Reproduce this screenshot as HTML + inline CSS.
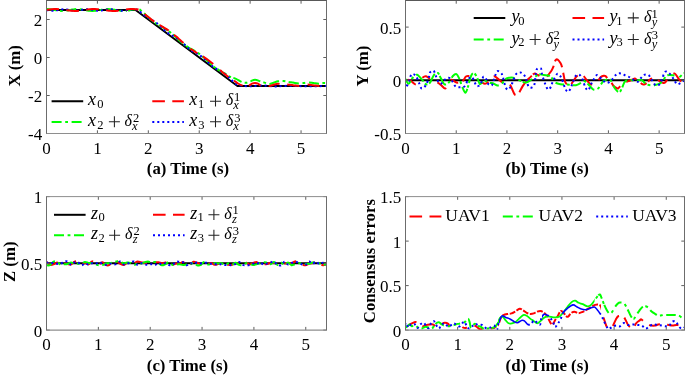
<!DOCTYPE html><html><head><meta charset="utf-8"><style>html,body{margin:0;padding:0;background:#fff;overflow:hidden;}svg{display:block;font-family:"Liberation Serif",serif;will-change:transform;}</style></head><body><svg width="685" height="376" viewBox="0 0 685 376"><defs><clipPath id="ca"><rect x="46.5" y="-0.5" width="280.0" height="134.0"/></clipPath><clipPath id="cb"><rect x="405.5" y="-0.5" width="279.0" height="134.0"/></clipPath><clipPath id="cc"><rect x="46.5" y="195.6" width="280.0" height="134.50000000000003"/></clipPath><clipPath id="cd"><rect x="405.5" y="195.6" width="279.0" height="134.50000000000003"/></clipPath><clipPath id="cao1"><rect x="41.50" y="0" width="85.50" height="376"/><rect x="327.00" y="0" width="4.50" height="376"/></clipPath><clipPath id="cao1_0"><rect x="127.00" y="0" width="200.00" height="376"/></clipPath><clipPath id="cao3"><rect x="41.50" y="0" width="98.50" height="376"/><rect x="327.00" y="0" width="4.50" height="376"/></clipPath><clipPath id="cao3_0"><rect x="140.00" y="0" width="187.00" height="376"/></clipPath><clipPath id="cdo0"><rect x="400.50" y="0" width="97.50" height="376"/><rect x="601.00" y="0" width="88.50" height="376"/></clipPath><clipPath id="cdo0_0"><rect x="498.00" y="0" width="103.00" height="376"/></clipPath><clipPath id="cdo1"><rect x="400.50" y="0" width="97.50" height="376"/><rect x="594.60" y="0" width="94.90" height="376"/></clipPath><clipPath id="cdo1_0"><rect x="498.00" y="0" width="96.60" height="376"/></clipPath><clipPath id="cdo2"><rect x="400.50" y="0" width="98.50" height="376"/><rect x="528.00" y="0" width="14.00" height="376"/><rect x="548.00" y="0" width="15.00" height="376"/><rect x="600.00" y="0" width="89.50" height="376"/></clipPath><clipPath id="cdo2_0"><rect x="499.00" y="0" width="29.00" height="376"/></clipPath><clipPath id="cdo2_1"><rect x="542.00" y="0" width="6.00" height="376"/></clipPath><clipPath id="cdo2_2"><rect x="563.00" y="0" width="37.00" height="376"/></clipPath></defs><rect width="685" height="376" fill="#fff"/><g clip-path="url(#ca)"><path d="M46.50,10.00 L135.59,10.00 L237.41,86.00 L326.50,86.00" stroke="#000" stroke-width="2" fill="none" stroke-linejoin="round"/><g clip-path="url(#cao1)"><path d="M46.50,9.05 C46.92,9.07 48.20,9.08 49.05,9.15 C49.89,9.22 50.74,9.34 51.59,9.47 C52.44,9.60 53.29,9.77 54.14,9.93 C54.98,10.09 55.83,10.27 56.68,10.42 C57.53,10.56 58.38,10.70 59.23,10.79 C60.08,10.88 60.92,10.94 61.77,10.95 C62.62,10.96 63.47,10.92 64.32,10.85 C65.17,10.78 66.02,10.66 66.86,10.53 C67.71,10.40 68.56,10.23 69.41,10.07 C70.26,9.91 71.11,9.73 71.95,9.58 C72.80,9.44 73.65,9.30 74.50,9.21 C75.35,9.12 76.20,9.06 77.05,9.05 C77.89,9.04 78.74,9.08 79.59,9.15 C80.44,9.22 81.29,9.34 82.14,9.47 C82.98,9.60 83.83,9.77 84.68,9.93 C85.53,10.09 86.38,10.27 87.23,10.42 C88.08,10.56 88.92,10.70 89.77,10.79 C90.62,10.88 91.47,10.94 92.32,10.95 C93.17,10.96 94.02,10.92 94.86,10.85 C95.71,10.78 96.56,10.66 97.41,10.53 C98.26,10.40 99.11,10.23 99.95,10.07 C100.80,9.91 101.65,9.73 102.50,9.58 C103.35,9.44 104.20,9.30 105.05,9.21 C105.89,9.12 106.74,9.06 107.59,9.05 C108.44,9.04 109.29,9.08 110.14,9.15 C110.98,9.22 111.83,9.34 112.68,9.47 C113.53,9.60 114.38,9.77 115.23,9.93 C116.08,10.09 116.92,10.27 117.77,10.42 C118.62,10.56 119.47,10.70 120.32,10.79 C121.17,10.88 122.02,10.94 122.86,10.95 C123.71,10.96 124.56,10.92 125.41,10.85 C126.26,10.78 127.11,10.66 127.95,10.53 C128.80,10.40 129.65,10.23 130.50,10.07 C131.35,9.91 132.20,9.73 133.05,9.58 C133.89,9.44 134.74,9.30 135.59,9.21 C136.44,9.12 137.29,8.87 138.14,9.05 C138.98,9.23 139.83,9.71 140.68,10.29 C141.53,10.86 142.38,11.74 143.23,12.51 C144.08,13.27 144.92,14.08 145.77,14.87 C146.62,15.66 147.47,16.48 148.32,17.26 C149.17,18.03 150.02,18.81 150.86,19.53 C151.71,20.25 152.56,20.94 153.41,21.59 C154.26,22.23 155.11,22.83 155.95,23.39 C156.80,23.96 157.65,24.47 158.50,24.97 C159.35,25.47 160.20,25.93 161.05,26.41 C161.89,26.88 162.74,27.33 163.59,27.82 C164.44,28.32 165.29,28.81 166.14,29.35 C166.98,29.90 167.83,30.47 168.68,31.09 C169.53,31.71 170.38,32.38 171.23,33.09 C172.08,33.79 172.92,34.54 173.77,35.31 C174.62,36.07 175.47,36.88 176.32,37.67 C177.17,38.46 178.02,39.28 178.86,40.06 C179.71,40.83 180.56,41.61 181.41,42.33 C182.26,43.05 183.11,43.74 183.95,44.39 C184.80,45.03 185.65,45.63 186.50,46.19 C187.35,46.76 188.20,47.27 189.05,47.77 C189.89,48.27 190.74,48.73 191.59,49.21 C192.44,49.68 193.29,50.13 194.14,50.62 C194.98,51.12 195.83,51.61 196.68,52.15 C197.53,52.70 198.38,53.27 199.23,53.89 C200.08,54.51 200.92,55.18 201.77,55.89 C202.62,56.59 203.47,57.34 204.32,58.11 C205.17,58.87 206.02,59.68 206.86,60.47 C207.71,61.26 208.56,62.08 209.41,62.86 C210.26,63.63 211.11,64.41 211.95,65.13 C212.80,65.85 213.65,66.54 214.50,67.19 C215.35,67.83 216.20,68.43 217.05,68.99 C217.89,69.56 218.74,70.07 219.59,70.57 C220.44,71.07 221.29,71.53 222.14,72.01 C222.98,72.48 223.83,72.93 224.68,73.42 C225.53,73.92 226.38,74.41 227.23,74.95 C228.08,75.50 228.31,76.05 229.77,76.69 C231.23,77.33 234.05,77.93 236.00,78.80 C237.95,79.67 239.85,81.23 241.50,81.90 C243.15,82.57 244.43,82.88 245.90,82.80 C247.37,82.72 248.78,81.92 250.30,81.40 C251.82,80.88 253.37,79.72 255.00,79.70 C256.63,79.68 258.52,80.82 260.10,81.30 C261.68,81.78 262.98,82.15 264.50,82.60 C266.02,83.05 267.70,83.97 269.20,84.00 C270.70,84.03 272.03,83.25 273.50,82.80 C274.97,82.35 276.30,81.58 278.00,81.30 C279.70,81.02 281.97,80.98 283.70,81.10 C285.43,81.22 286.85,81.75 288.40,82.00 C289.95,82.25 291.30,82.37 293.00,82.60 C294.70,82.83 296.83,83.33 298.60,83.40 C300.37,83.47 301.90,83.17 303.60,83.00 C305.30,82.83 307.15,82.40 308.80,82.40 C310.45,82.40 311.85,82.77 313.50,83.00 C315.15,83.23 317.05,83.80 318.70,83.80 C320.35,83.80 322.02,83.13 323.40,83.00 C324.78,82.87 326.40,83.00 327.00,83.00" stroke="#0f0" stroke-width="2" stroke-dasharray="10 3.6 2.8 3.6" fill="none" stroke-linejoin="round"/></g><path clip-path="url(#cao1_0)" d="M46.50,9.05 C46.92,9.07 48.20,9.08 49.05,9.15 C49.89,9.22 50.74,9.34 51.59,9.47 C52.44,9.60 53.29,9.77 54.14,9.93 C54.98,10.09 55.83,10.27 56.68,10.42 C57.53,10.56 58.38,10.70 59.23,10.79 C60.08,10.88 60.92,10.94 61.77,10.95 C62.62,10.96 63.47,10.92 64.32,10.85 C65.17,10.78 66.02,10.66 66.86,10.53 C67.71,10.40 68.56,10.23 69.41,10.07 C70.26,9.91 71.11,9.73 71.95,9.58 C72.80,9.44 73.65,9.30 74.50,9.21 C75.35,9.12 76.20,9.06 77.05,9.05 C77.89,9.04 78.74,9.08 79.59,9.15 C80.44,9.22 81.29,9.34 82.14,9.47 C82.98,9.60 83.83,9.77 84.68,9.93 C85.53,10.09 86.38,10.27 87.23,10.42 C88.08,10.56 88.92,10.70 89.77,10.79 C90.62,10.88 91.47,10.94 92.32,10.95 C93.17,10.96 94.02,10.92 94.86,10.85 C95.71,10.78 96.56,10.66 97.41,10.53 C98.26,10.40 99.11,10.23 99.95,10.07 C100.80,9.91 101.65,9.73 102.50,9.58 C103.35,9.44 104.20,9.30 105.05,9.21 C105.89,9.12 106.74,9.06 107.59,9.05 C108.44,9.04 109.29,9.08 110.14,9.15 C110.98,9.22 111.83,9.34 112.68,9.47 C113.53,9.60 114.38,9.77 115.23,9.93 C116.08,10.09 116.92,10.27 117.77,10.42 C118.62,10.56 119.47,10.70 120.32,10.79 C121.17,10.88 122.02,10.94 122.86,10.95 C123.71,10.96 124.56,10.92 125.41,10.85 C126.26,10.78 127.11,10.66 127.95,10.53 C128.80,10.40 129.65,10.23 130.50,10.07 C131.35,9.91 132.20,9.73 133.05,9.58 C133.89,9.44 134.74,9.30 135.59,9.21 C136.44,9.12 137.29,8.87 138.14,9.05 C138.98,9.23 139.83,9.71 140.68,10.29 C141.53,10.86 142.38,11.74 143.23,12.51 C144.08,13.27 144.92,14.08 145.77,14.87 C146.62,15.66 147.47,16.48 148.32,17.26 C149.17,18.03 150.02,18.81 150.86,19.53 C151.71,20.25 152.56,20.94 153.41,21.59 C154.26,22.23 155.11,22.83 155.95,23.39 C156.80,23.96 157.65,24.47 158.50,24.97 C159.35,25.47 160.20,25.93 161.05,26.41 C161.89,26.88 162.74,27.33 163.59,27.82 C164.44,28.32 165.29,28.81 166.14,29.35 C166.98,29.90 167.83,30.47 168.68,31.09 C169.53,31.71 170.38,32.38 171.23,33.09 C172.08,33.79 172.92,34.54 173.77,35.31 C174.62,36.07 175.47,36.88 176.32,37.67 C177.17,38.46 178.02,39.28 178.86,40.06 C179.71,40.83 180.56,41.61 181.41,42.33 C182.26,43.05 183.11,43.74 183.95,44.39 C184.80,45.03 185.65,45.63 186.50,46.19 C187.35,46.76 188.20,47.27 189.05,47.77 C189.89,48.27 190.74,48.73 191.59,49.21 C192.44,49.68 193.29,50.13 194.14,50.62 C194.98,51.12 195.83,51.61 196.68,52.15 C197.53,52.70 198.38,53.27 199.23,53.89 C200.08,54.51 200.92,55.18 201.77,55.89 C202.62,56.59 203.47,57.34 204.32,58.11 C205.17,58.87 206.02,59.68 206.86,60.47 C207.71,61.26 208.56,62.08 209.41,62.86 C210.26,63.63 211.11,64.41 211.95,65.13 C212.80,65.85 213.65,66.54 214.50,67.19 C215.35,67.83 216.20,68.43 217.05,68.99 C217.89,69.56 218.74,70.07 219.59,70.57 C220.44,71.07 221.29,71.53 222.14,72.01 C222.98,72.48 223.83,72.93 224.68,73.42 C225.53,73.92 226.38,74.41 227.23,74.95 C228.08,75.50 228.31,76.05 229.77,76.69 C231.23,77.33 234.05,77.93 236.00,78.80 C237.95,79.67 239.85,81.23 241.50,81.90 C243.15,82.57 244.43,82.88 245.90,82.80 C247.37,82.72 248.78,81.92 250.30,81.40 C251.82,80.88 253.37,79.72 255.00,79.70 C256.63,79.68 258.52,80.82 260.10,81.30 C261.68,81.78 262.98,82.15 264.50,82.60 C266.02,83.05 267.70,83.97 269.20,84.00 C270.70,84.03 272.03,83.25 273.50,82.80 C274.97,82.35 276.30,81.58 278.00,81.30 C279.70,81.02 281.97,80.98 283.70,81.10 C285.43,81.22 286.85,81.75 288.40,82.00 C289.95,82.25 291.30,82.37 293.00,82.60 C294.70,82.83 296.83,83.33 298.60,83.40 C300.37,83.47 301.90,83.17 303.60,83.00 C305.30,82.83 307.15,82.40 308.80,82.40 C310.45,82.40 311.85,82.77 313.50,83.00 C315.15,83.23 317.05,83.80 318.70,83.80 C320.35,83.80 322.02,83.13 323.40,83.00 C324.78,82.87 326.40,83.00 327.00,83.00" stroke="#0f0" stroke-width="2" stroke-dasharray="0.00 82.25 7.31 4.31 2.80 3.26 12.83 1.53 2.80 1.42 10.44 1.58 2.80 2.51 12.84 1.14 2.80 0.80 10.42 2.77 2.80 2.91 13.12 2.20 2.80 1.90 10.40 2.82 2.80 2.28 9.19 3.13 2.80 3.24 10.41 3.19 2.80 3.52 10.15 3.41 2.80 3.39 10.30 3.62 2.80 3.84 10.01 3.38 2.80 1002.20" fill="none" stroke-linejoin="round"/><path d="M46.50,9.89 C46.92,9.98 48.20,10.26 49.05,10.40 C49.89,10.54 50.74,10.67 51.59,10.72 C52.44,10.77 53.29,10.77 54.14,10.71 C54.98,10.64 55.83,10.50 56.68,10.36 C57.53,10.21 58.38,10.00 59.23,9.84 C60.08,9.68 60.92,9.50 61.77,9.40 C62.62,9.30 63.47,9.24 64.32,9.24 C65.17,9.25 66.02,9.33 66.86,9.43 C67.71,9.54 68.56,9.73 69.41,9.89 C70.26,10.05 71.11,10.26 71.95,10.40 C72.80,10.54 73.65,10.67 74.50,10.72 C75.35,10.77 76.20,10.77 77.05,10.71 C77.89,10.64 78.74,10.50 79.59,10.36 C80.44,10.21 81.29,10.00 82.14,9.84 C82.98,9.68 83.83,9.50 84.68,9.40 C85.53,9.30 86.38,9.24 87.23,9.24 C88.08,9.25 88.92,9.33 89.77,9.43 C90.62,9.54 91.47,9.73 92.32,9.89 C93.17,10.05 94.02,10.26 94.86,10.40 C95.71,10.54 96.56,10.67 97.41,10.72 C98.26,10.77 99.11,10.77 99.95,10.71 C100.80,10.64 101.65,10.50 102.50,10.36 C103.35,10.21 104.20,10.00 105.05,9.84 C105.89,9.68 106.74,9.50 107.59,9.40 C108.44,9.30 109.29,9.24 110.14,9.24 C110.98,9.25 111.83,9.33 112.68,9.43 C113.53,9.54 114.38,9.73 115.23,9.89 C116.08,10.05 116.92,10.26 117.77,10.40 C118.62,10.54 119.47,10.67 120.32,10.72 C121.17,10.77 122.02,10.77 122.86,10.71 C123.71,10.64 124.56,10.50 125.41,10.36 C126.26,10.21 127.11,10.00 127.95,9.84 C128.80,9.68 129.65,9.50 130.50,9.40 C131.35,9.30 132.20,9.24 133.05,9.24 C133.89,9.25 134.74,9.33 135.59,9.43 C136.44,9.54 137.29,9.41 138.14,9.89 C138.98,10.37 139.83,11.53 140.68,12.30 C141.53,13.07 142.38,13.84 143.23,14.52 C144.08,15.21 144.92,15.83 145.77,16.41 C146.62,16.98 147.47,17.47 148.32,17.96 C149.17,18.45 150.02,18.87 150.86,19.34 C151.71,19.82 152.56,20.27 153.41,20.80 C154.26,21.33 155.11,21.90 155.95,22.54 C156.80,23.18 157.65,23.89 158.50,24.63 C159.35,25.38 160.20,26.20 161.05,26.99 C161.89,27.79 162.74,28.63 163.59,29.40 C164.44,30.17 165.29,30.94 166.14,31.62 C166.98,32.31 167.83,32.93 168.68,33.51 C169.53,34.08 170.38,34.57 171.23,35.06 C172.08,35.55 172.92,35.97 173.77,36.44 C174.62,36.92 175.47,37.37 176.32,37.90 C177.17,38.43 178.02,39.00 178.86,39.64 C179.71,40.28 180.56,40.99 181.41,41.73 C182.26,42.48 183.11,43.30 183.95,44.09 C184.80,44.89 185.65,45.73 186.50,46.50 C187.35,47.27 188.20,48.04 189.05,48.72 C189.89,49.41 190.74,50.03 191.59,50.61 C192.44,51.18 193.29,51.67 194.14,52.16 C194.98,52.65 195.83,53.07 196.68,53.54 C197.53,54.02 198.38,54.47 199.23,55.00 C200.08,55.53 200.92,56.10 201.77,56.74 C202.62,57.38 203.47,58.09 204.32,58.83 C205.17,59.58 206.02,60.40 206.86,61.19 C207.71,61.99 208.56,62.83 209.41,63.60 C210.26,64.37 211.11,65.14 211.95,65.82 C212.80,66.51 213.65,67.13 214.50,67.71 C215.35,68.28 216.20,68.77 217.05,69.26 C217.89,69.75 218.74,70.17 219.59,70.64 C220.44,71.12 221.29,71.57 222.14,72.10 C222.98,72.63 223.83,73.20 224.68,73.84 C225.53,74.48 226.38,75.19 227.23,75.93 C228.08,76.68 228.92,77.50 229.77,78.29 C230.62,79.09 231.47,79.93 232.32,80.70 C233.17,81.47 234.02,82.24 234.86,82.92 C235.71,83.61 236.47,84.36 237.41,84.81 C238.35,85.25 238.40,85.35 240.50,85.60 C242.60,85.85 246.42,86.32 250.00,86.30 C253.58,86.28 257.83,85.48 262.00,85.50 C266.17,85.52 270.33,86.37 275.00,86.40 C279.67,86.43 285.00,85.72 290.00,85.70 C295.00,85.68 298.83,86.25 305.00,86.30 C311.17,86.35 323.33,86.05 327.00,86.00" stroke="#00f" stroke-width="2" stroke-dasharray="2 3" fill="none" stroke-linejoin="round"/><g clip-path="url(#cao3)"><path d="M46.50,10.00 C46.92,9.94 48.20,9.73 49.05,9.61 C49.89,9.50 50.74,9.38 51.59,9.29 C52.44,9.21 53.29,9.14 54.14,9.10 C54.98,9.06 55.83,9.04 56.68,9.06 C57.53,9.07 58.38,9.11 59.23,9.18 C60.08,9.24 60.92,9.34 61.77,9.44 C62.62,9.55 63.47,9.68 64.32,9.80 C65.17,9.93 66.02,10.07 66.86,10.20 C67.71,10.32 68.56,10.45 69.41,10.56 C70.26,10.66 71.11,10.76 71.95,10.82 C72.80,10.89 73.65,10.93 74.50,10.94 C75.35,10.96 76.20,10.94 77.05,10.90 C77.89,10.86 78.74,10.79 79.59,10.71 C80.44,10.62 81.29,10.50 82.14,10.39 C82.98,10.27 83.83,10.13 84.68,10.00 C85.53,9.87 86.38,9.73 87.23,9.61 C88.08,9.50 88.92,9.38 89.77,9.29 C90.62,9.21 91.47,9.14 92.32,9.10 C93.17,9.06 94.02,9.04 94.86,9.06 C95.71,9.07 96.56,9.11 97.41,9.18 C98.26,9.24 99.11,9.34 99.95,9.44 C100.80,9.55 101.65,9.68 102.50,9.80 C103.35,9.93 104.20,10.07 105.05,10.20 C105.89,10.32 106.74,10.45 107.59,10.56 C108.44,10.66 109.29,10.76 110.14,10.82 C110.98,10.89 111.83,10.93 112.68,10.94 C113.53,10.96 114.38,10.94 115.23,10.90 C116.08,10.86 116.92,10.79 117.77,10.71 C118.62,10.62 119.47,10.50 120.32,10.39 C121.17,10.27 122.02,10.13 122.86,10.00 C123.71,9.87 124.56,9.73 125.41,9.61 C126.26,9.50 127.11,9.38 127.95,9.29 C128.80,9.21 129.65,9.14 130.50,9.10 C131.35,9.06 132.20,9.04 133.05,9.06 C133.89,9.07 134.74,9.11 135.59,9.18 C136.44,9.24 137.29,9.24 138.14,9.44 C138.98,9.64 139.83,9.83 140.68,10.37 C141.53,10.91 142.38,11.91 143.23,12.67 C144.08,13.43 144.92,14.19 145.77,14.93 C146.62,15.67 147.47,16.39 148.32,17.09 C149.17,17.79 150.02,18.47 150.86,19.11 C151.71,19.76 152.56,20.38 153.41,20.97 C154.26,21.57 155.11,22.13 155.95,22.68 C156.80,23.22 157.65,23.74 158.50,24.26 C159.35,24.77 160.20,25.27 161.05,25.77 C161.89,26.27 162.74,26.77 163.59,27.28 C164.44,27.80 165.29,28.32 166.14,28.86 C166.98,29.41 167.83,29.97 168.68,30.57 C169.53,31.16 170.38,31.78 171.23,32.43 C172.08,33.07 172.92,33.75 173.77,34.45 C174.62,35.15 175.47,35.87 176.32,36.61 C177.17,37.35 178.02,38.11 178.86,38.87 C179.71,39.63 180.56,40.41 181.41,41.17 C182.26,41.93 183.11,42.69 183.95,43.43 C184.80,44.17 185.65,44.89 186.50,45.59 C187.35,46.29 188.20,46.97 189.05,47.61 C189.89,48.26 190.74,48.88 191.59,49.47 C192.44,50.07 193.29,50.63 194.14,51.18 C194.98,51.72 195.83,52.24 196.68,52.76 C197.53,53.27 198.38,53.77 199.23,54.27 C200.08,54.77 200.92,55.27 201.77,55.78 C202.62,56.30 203.47,56.82 204.32,57.36 C205.17,57.91 206.02,58.47 206.86,59.07 C207.71,59.66 208.56,60.28 209.41,60.93 C210.26,61.57 211.11,62.25 211.95,62.95 C212.80,63.65 213.65,64.37 214.50,65.11 C215.35,65.85 216.20,66.61 217.05,67.37 C217.89,68.13 218.74,68.91 219.59,69.67 C220.44,70.43 221.29,71.19 222.14,71.93 C222.98,72.67 223.83,73.39 224.68,74.09 C225.53,74.79 226.38,75.47 227.23,76.11 C228.08,76.76 228.92,77.38 229.77,77.97 C230.62,78.57 231.47,79.13 232.32,79.68 C233.17,80.22 233.92,80.62 234.86,81.26 C235.81,81.89 236.71,82.78 238.00,83.50 C239.29,84.22 241.27,85.15 242.60,85.60 C243.93,86.05 244.93,86.20 246.00,86.20 C247.07,86.20 248.00,86.03 249.00,85.60 C250.00,85.17 251.00,84.05 252.00,83.60 C253.00,83.15 254.00,82.90 255.00,82.90 C256.00,82.90 257.08,83.15 258.00,83.60 C258.92,84.05 259.50,85.13 260.50,85.60 C261.50,86.07 262.67,86.30 264.00,86.40 C265.33,86.50 267.00,86.43 268.50,86.20 C270.00,85.97 271.42,85.40 273.00,85.00 C274.58,84.60 276.50,83.87 278.00,83.80 C279.50,83.73 280.50,84.47 282.00,84.60 C283.50,84.73 285.17,84.50 287.00,84.60 C288.83,84.70 291.00,84.97 293.00,85.20 C295.00,85.43 297.33,85.93 299.00,86.00 C300.67,86.07 301.60,85.83 303.00,85.60 C304.40,85.37 305.73,84.67 307.40,84.60 C309.07,84.53 311.07,84.97 313.00,85.20 C314.93,85.43 317.33,85.90 319.00,86.00 C320.67,86.10 321.67,85.87 323.00,85.80 C324.33,85.73 326.33,85.63 327.00,85.60" stroke="#f00" stroke-width="2" stroke-dasharray="12.6 7.4" fill="none" stroke-linejoin="round"/></g><path clip-path="url(#cao3_0)" d="M46.50,10.00 C46.92,9.94 48.20,9.73 49.05,9.61 C49.89,9.50 50.74,9.38 51.59,9.29 C52.44,9.21 53.29,9.14 54.14,9.10 C54.98,9.06 55.83,9.04 56.68,9.06 C57.53,9.07 58.38,9.11 59.23,9.18 C60.08,9.24 60.92,9.34 61.77,9.44 C62.62,9.55 63.47,9.68 64.32,9.80 C65.17,9.93 66.02,10.07 66.86,10.20 C67.71,10.32 68.56,10.45 69.41,10.56 C70.26,10.66 71.11,10.76 71.95,10.82 C72.80,10.89 73.65,10.93 74.50,10.94 C75.35,10.96 76.20,10.94 77.05,10.90 C77.89,10.86 78.74,10.79 79.59,10.71 C80.44,10.62 81.29,10.50 82.14,10.39 C82.98,10.27 83.83,10.13 84.68,10.00 C85.53,9.87 86.38,9.73 87.23,9.61 C88.08,9.50 88.92,9.38 89.77,9.29 C90.62,9.21 91.47,9.14 92.32,9.10 C93.17,9.06 94.02,9.04 94.86,9.06 C95.71,9.07 96.56,9.11 97.41,9.18 C98.26,9.24 99.11,9.34 99.95,9.44 C100.80,9.55 101.65,9.68 102.50,9.80 C103.35,9.93 104.20,10.07 105.05,10.20 C105.89,10.32 106.74,10.45 107.59,10.56 C108.44,10.66 109.29,10.76 110.14,10.82 C110.98,10.89 111.83,10.93 112.68,10.94 C113.53,10.96 114.38,10.94 115.23,10.90 C116.08,10.86 116.92,10.79 117.77,10.71 C118.62,10.62 119.47,10.50 120.32,10.39 C121.17,10.27 122.02,10.13 122.86,10.00 C123.71,9.87 124.56,9.73 125.41,9.61 C126.26,9.50 127.11,9.38 127.95,9.29 C128.80,9.21 129.65,9.14 130.50,9.10 C131.35,9.06 132.20,9.04 133.05,9.06 C133.89,9.07 134.74,9.11 135.59,9.18 C136.44,9.24 137.29,9.24 138.14,9.44 C138.98,9.64 139.83,9.83 140.68,10.37 C141.53,10.91 142.38,11.91 143.23,12.67 C144.08,13.43 144.92,14.19 145.77,14.93 C146.62,15.67 147.47,16.39 148.32,17.09 C149.17,17.79 150.02,18.47 150.86,19.11 C151.71,19.76 152.56,20.38 153.41,20.97 C154.26,21.57 155.11,22.13 155.95,22.68 C156.80,23.22 157.65,23.74 158.50,24.26 C159.35,24.77 160.20,25.27 161.05,25.77 C161.89,26.27 162.74,26.77 163.59,27.28 C164.44,27.80 165.29,28.32 166.14,28.86 C166.98,29.41 167.83,29.97 168.68,30.57 C169.53,31.16 170.38,31.78 171.23,32.43 C172.08,33.07 172.92,33.75 173.77,34.45 C174.62,35.15 175.47,35.87 176.32,36.61 C177.17,37.35 178.02,38.11 178.86,38.87 C179.71,39.63 180.56,40.41 181.41,41.17 C182.26,41.93 183.11,42.69 183.95,43.43 C184.80,44.17 185.65,44.89 186.50,45.59 C187.35,46.29 188.20,46.97 189.05,47.61 C189.89,48.26 190.74,48.88 191.59,49.47 C192.44,50.07 193.29,50.63 194.14,51.18 C194.98,51.72 195.83,52.24 196.68,52.76 C197.53,53.27 198.38,53.77 199.23,54.27 C200.08,54.77 200.92,55.27 201.77,55.78 C202.62,56.30 203.47,56.82 204.32,57.36 C205.17,57.91 206.02,58.47 206.86,59.07 C207.71,59.66 208.56,60.28 209.41,60.93 C210.26,61.57 211.11,62.25 211.95,62.95 C212.80,63.65 213.65,64.37 214.50,65.11 C215.35,65.85 216.20,66.61 217.05,67.37 C217.89,68.13 218.74,68.91 219.59,69.67 C220.44,70.43 221.29,71.19 222.14,71.93 C222.98,72.67 223.83,73.39 224.68,74.09 C225.53,74.79 226.38,75.47 227.23,76.11 C228.08,76.76 228.92,77.38 229.77,77.97 C230.62,78.57 231.47,79.13 232.32,79.68 C233.17,80.22 233.92,80.62 234.86,81.26 C235.81,81.89 236.71,82.78 238.00,83.50 C239.29,84.22 241.27,85.15 242.60,85.60 C243.93,86.05 244.93,86.20 246.00,86.20 C247.07,86.20 248.00,86.03 249.00,85.60 C250.00,85.17 251.00,84.05 252.00,83.60 C253.00,83.15 254.00,82.90 255.00,82.90 C256.00,82.90 257.08,83.15 258.00,83.60 C258.92,84.05 259.50,85.13 260.50,85.60 C261.50,86.07 262.67,86.30 264.00,86.40 C265.33,86.50 267.00,86.43 268.50,86.20 C270.00,85.97 271.42,85.40 273.00,85.00 C274.58,84.60 276.50,83.87 278.00,83.80 C279.50,83.73 280.50,84.47 282.00,84.60 C283.50,84.73 285.17,84.50 287.00,84.60 C288.83,84.70 291.00,84.97 293.00,85.20 C295.00,85.43 297.33,85.93 299.00,86.00 C300.67,86.07 301.60,85.83 303.00,85.60 C304.40,85.37 305.73,84.67 307.40,84.60 C309.07,84.53 311.07,84.97 313.00,85.20 C314.93,85.43 317.33,85.90 319.00,86.00 C320.67,86.10 321.67,85.87 323.00,85.80 C324.33,85.73 326.33,85.63 327.00,85.60" stroke="#f00" stroke-width="2" stroke-dasharray="0.00 100.31 12.25 6.38 10.61 6.68 12.68 8.89 8.24 6.40 12.88 9.10 10.91 6.72 9.95 6.34 13.26 8.12 11.12 7.79 12.09 8.55 11.79 1007.91" fill="none" stroke-linejoin="round"/></g><g clip-path="url(#cb)"><path d="M405.50,80.30 L684.50,80.30" stroke="#000" stroke-width="2" fill="none" stroke-linejoin="round"/><path d="M405.00,80.10 C405.80,80.10 408.10,79.40 409.80,80.10 C411.50,80.80 413.75,83.98 415.20,84.30 C416.65,84.62 417.30,83.10 418.50,82.00 C419.70,80.90 421.17,78.65 422.40,77.70 C423.63,76.75 424.72,76.20 425.90,76.30 C427.08,76.40 427.70,77.37 429.50,78.30 C431.30,79.23 434.80,80.80 436.70,81.90 C438.60,83.00 439.50,83.80 440.90,84.90 C442.30,86.00 444.00,88.65 445.10,88.50 C446.20,88.35 446.60,85.50 447.50,84.00 C448.40,82.50 449.00,79.75 450.50,79.50 C452.00,79.25 454.92,82.08 456.50,82.50 C458.08,82.92 458.92,82.30 460.00,82.00 C461.08,81.70 462.00,81.62 463.00,80.70 C464.00,79.78 465.00,77.28 466.00,76.50 C467.00,75.72 467.83,75.75 469.00,76.00 C470.17,76.25 471.43,77.32 473.00,78.00 C474.57,78.68 476.90,79.35 478.40,80.10 C479.90,80.85 480.90,81.90 482.00,82.50 C483.10,83.10 484.00,83.80 485.00,83.70 C486.00,83.60 486.62,83.10 488.00,81.90 C489.38,80.70 491.72,77.10 493.30,76.50 C494.88,75.90 496.10,77.40 497.50,78.30 C498.90,79.20 500.45,81.12 501.70,81.90 C502.95,82.68 503.70,82.60 505.00,83.00 C506.30,83.40 508.35,83.38 509.50,84.30 C510.65,85.22 511.10,86.90 511.90,88.50 C512.70,90.10 513.53,92.82 514.30,93.90 C515.07,94.98 515.70,95.20 516.50,95.00 C517.30,94.80 518.07,94.18 519.10,92.70 C520.13,91.22 521.52,88.00 522.70,86.10 C523.88,84.20 524.92,82.80 526.20,81.30 C527.48,79.80 529.20,78.30 530.40,77.10 C531.60,75.90 532.63,74.70 533.40,74.10 C534.17,73.50 534.25,73.35 535.00,73.50 C535.75,73.65 536.68,74.40 537.90,75.00 C539.12,75.60 540.83,76.87 542.30,77.10 C543.77,77.33 545.23,77.37 546.70,76.40 C548.17,75.43 550.00,72.88 551.10,71.30 C552.20,69.72 552.57,68.73 553.30,66.90 C554.03,65.07 554.77,61.52 555.50,60.30 C556.23,59.08 556.85,59.10 557.70,59.60 C558.55,60.10 559.88,62.08 560.60,63.30 C561.32,64.52 561.52,65.08 562.00,66.90 C562.48,68.72 563.00,71.77 563.50,74.20 C564.00,76.63 564.52,79.92 565.00,81.50 C565.48,83.08 565.73,83.20 566.40,83.70 C567.07,84.20 568.15,84.50 569.00,84.50 C569.85,84.50 570.58,84.57 571.50,83.70 C572.42,82.83 573.65,80.52 574.50,79.30 C575.35,78.08 575.68,77.12 576.60,76.40 C577.52,75.68 578.90,75.12 580.00,75.00 C581.10,74.88 582.18,74.98 583.20,75.70 C584.22,76.42 585.00,77.97 586.10,79.30 C587.20,80.63 588.57,82.83 589.80,83.70 C591.03,84.57 592.17,84.98 593.50,84.50 C594.83,84.02 596.58,82.03 597.80,80.80 C599.02,79.57 599.82,77.95 600.80,77.10 C601.78,76.25 602.90,75.87 603.70,75.70 C604.50,75.53 604.87,75.52 605.60,76.10 C606.33,76.68 607.17,78.17 608.10,79.20 C609.03,80.23 610.28,81.17 611.20,82.30 C612.12,83.43 612.57,84.97 613.60,86.00 C614.63,87.03 616.57,88.18 617.40,88.50 C618.23,88.82 617.92,88.48 618.60,87.90 C619.28,87.32 620.47,85.93 621.50,85.00 C622.53,84.07 623.63,82.95 624.80,82.30 C625.97,81.65 627.25,81.52 628.50,81.10 C629.75,80.68 631.27,80.22 632.30,79.80 C633.33,79.38 633.92,78.65 634.70,78.60 C635.48,78.55 636.17,78.98 637.00,79.50 C637.83,80.02 638.83,80.92 639.70,81.70 C640.57,82.48 641.37,83.78 642.20,84.20 C643.03,84.62 643.77,84.52 644.70,84.20 C645.63,83.88 646.98,83.03 647.80,82.30 C648.62,81.57 648.82,80.43 649.60,79.80 C650.38,79.17 651.47,78.70 652.50,78.50 C653.53,78.30 654.62,78.17 655.80,78.60 C656.98,79.03 658.35,80.38 659.60,81.10 C660.85,81.82 662.27,82.80 663.30,82.90 C664.33,83.00 665.02,82.52 665.80,81.70 C666.58,80.88 667.18,79.13 668.00,78.00 C668.82,76.87 669.62,75.63 670.70,74.90 C671.78,74.17 673.47,73.40 674.50,73.60 C675.53,73.80 676.08,75.07 676.90,76.10 C677.72,77.13 678.15,78.45 679.40,79.80 C680.65,81.15 683.57,83.47 684.40,84.20" stroke="#f00" stroke-width="2" stroke-dasharray="0.00 2.82 9.43 9.28 8.95 7.84 11.25 9.58 8.32 4.83 9.02 13.62 8.04 7.39 11.34 7.30 11.71 5.24 20.44 1.74 7.64 7.65 12.89 4.13 13.10 5.62 12.23 4.37 10.67 6.36 12.16 7.93 11.66 6.30 12.41 7.32 10.95 5.76 6.58 2.07 5.33 6.25 11.23 8.85 11.84 4.40 1.83 1000.00" fill="none" stroke-linejoin="round"/><path d="M405.00,78.30 C405.60,79.20 407.40,83.70 408.60,83.70 C409.80,83.70 410.80,79.80 412.20,78.30 C413.60,76.80 415.30,74.40 417.00,74.70 C418.70,75.00 420.90,78.50 422.40,80.10 C423.90,81.70 424.72,83.90 426.00,84.30 C427.28,84.70 428.82,84.00 430.10,82.50 C431.38,81.00 432.40,76.88 433.70,75.30 C435.00,73.72 436.70,72.50 437.90,73.00 C439.10,73.50 439.80,76.42 440.90,78.30 C442.00,80.18 443.10,83.68 444.50,84.30 C445.90,84.92 447.90,83.38 449.30,82.00 C450.70,80.62 451.70,77.32 452.90,76.00 C454.10,74.68 455.42,73.60 456.50,74.10 C457.58,74.60 458.42,76.80 459.40,79.00 C460.38,81.20 461.40,85.02 462.40,87.30 C463.40,89.58 464.50,92.70 465.40,92.70 C466.30,92.70 466.90,90.00 467.80,87.30 C468.70,84.60 469.80,78.88 470.80,76.50 C471.80,74.12 472.73,72.80 473.80,73.00 C474.87,73.20 476.23,75.92 477.20,77.70 C478.17,79.48 478.80,82.90 479.60,83.70 C480.40,84.50 481.10,83.00 482.00,82.50 C482.90,82.00 483.82,80.70 485.00,80.70 C486.18,80.70 487.62,82.00 489.10,82.50 C490.58,83.00 492.50,83.20 493.90,83.70 C495.30,84.20 496.20,85.50 497.50,85.50 C498.80,85.50 500.30,84.80 501.70,83.70 C503.10,82.60 504.60,79.90 505.90,78.90 C507.20,77.90 508.30,77.90 509.50,77.70 C510.70,77.50 511.70,77.40 513.10,77.70 C514.50,78.00 516.30,78.80 517.90,79.50 C519.50,80.20 521.32,81.40 522.70,81.90 C524.08,82.40 525.02,82.70 526.20,82.50 C527.38,82.30 528.40,81.60 529.80,80.70 C531.20,79.80 533.40,77.97 534.60,77.10 C535.80,76.23 536.20,75.98 537.00,75.50 C537.80,75.02 538.27,74.28 539.40,74.20 C540.53,74.12 542.22,74.75 543.80,75.00 C545.38,75.25 547.57,75.22 548.90,75.70 C550.23,76.18 550.95,76.93 551.80,77.90 C552.65,78.87 552.90,80.53 554.00,81.50 C555.10,82.47 556.93,83.20 558.40,83.70 C559.87,84.20 561.35,84.37 562.80,84.50 C564.25,84.63 565.65,84.38 567.10,84.50 C568.55,84.62 570.03,85.08 571.50,85.20 C572.97,85.32 574.55,85.45 575.90,85.20 C577.25,84.95 578.38,84.43 579.60,83.70 C580.82,82.97 582.12,81.03 583.20,80.80 C584.28,80.57 585.00,81.45 586.10,82.30 C587.20,83.15 588.57,84.68 589.80,85.90 C591.03,87.12 592.17,89.12 593.50,89.60 C594.83,90.08 596.58,89.65 597.80,88.80 C599.02,87.95 599.82,85.83 600.80,84.50 C601.78,83.17 603.00,81.48 603.70,80.80 C604.40,80.12 604.07,80.77 605.00,80.40 C605.93,80.03 608.07,78.08 609.30,78.60 C610.53,79.12 611.47,81.85 612.40,83.50 C613.33,85.15 613.77,87.05 614.90,88.50 C616.03,89.95 617.97,92.40 619.20,92.20 C620.43,92.00 621.37,89.05 622.30,87.30 C623.23,85.55 623.55,82.95 624.80,81.70 C626.05,80.45 627.93,79.90 629.80,79.80 C631.67,79.70 634.13,81.10 636.00,81.10 C637.87,81.10 639.25,79.28 641.00,79.80 C642.75,80.32 644.65,83.27 646.50,84.20 C648.35,85.13 650.55,85.30 652.10,85.40 C653.65,85.50 654.55,85.12 655.80,84.80 C657.05,84.48 658.35,84.23 659.60,83.50 C660.85,82.77 662.27,81.63 663.30,80.40 C664.33,79.17 664.77,77.02 665.80,76.10 C666.83,75.18 668.05,75.00 669.50,74.90 C670.95,74.80 672.95,75.10 674.50,75.50 C676.05,75.90 677.37,77.62 678.80,77.30 C680.23,76.98 682.15,74.32 683.10,73.60 C684.05,72.88 684.27,73.10 684.50,73.00" stroke="#0f0" stroke-width="2" stroke-dasharray="0.00 0.01 10.10 2.04 2.80 3.29 10.58 2.38 2.80 2.03 10.92 2.57 2.80 1.45 11.29 2.38 2.80 3.60 12.32 2.23 2.80 3.23 11.12 1.25 2.80 2.06 10.41 2.27 2.80 2.33 10.00 1.84 2.80 2.99 9.45 3.55 2.80 2.86 9.52 4.20 2.80 1.88 10.43 3.87 2.80 2.00 10.65 2.21 2.80 3.83 8.84 2.80 2.80 2.86 9.05 3.24 2.80 2.27 9.25 3.23 2.80 3.08 8.20 3.43 2.80 4.29 7.84 2.10 2.80 2.11 9.07 3.58 2.80 3.45 9.75 2.75 2.80 3.43 8.87 3.14 2.80 2.84 7.28 5.40 2.80 2.65 3.53 1000.00" fill="none" stroke-linejoin="round"/><path d="M405.00,84.00 C405.20,84.55 405.40,88.13 406.20,87.30 C407.00,86.47 408.90,81.20 409.80,79.00 C410.70,76.80 410.60,74.62 411.60,74.10 C412.60,73.58 414.50,74.30 415.80,75.90 C417.10,77.50 418.40,81.60 419.40,83.70 C420.40,85.80 420.70,88.30 421.80,88.50 C422.90,88.70 424.82,86.80 426.00,84.90 C427.18,83.00 428.22,79.18 428.90,77.10 C429.58,75.02 429.35,73.48 430.10,72.40 C430.85,71.32 432.50,70.22 433.40,70.60 C434.30,70.98 434.85,73.12 435.50,74.70 C436.15,76.28 436.40,78.60 437.30,80.10 C438.20,81.60 439.40,84.00 440.90,83.70 C442.40,83.40 444.70,79.20 446.30,78.30 C447.90,77.40 449.40,77.60 450.50,78.30 C451.60,79.00 452.00,81.10 452.90,82.50 C453.80,83.90 454.62,85.90 455.90,86.70 C457.18,87.50 459.12,87.40 460.60,87.30 C462.08,87.20 463.50,87.48 464.80,86.10 C466.10,84.72 467.20,80.50 468.40,79.00 C469.60,77.50 470.93,76.52 472.00,77.10 C473.07,77.68 474.03,81.00 474.80,82.50 C475.57,84.00 475.70,85.70 476.60,86.10 C477.50,86.50 479.30,85.90 480.20,84.90 C481.10,83.90 481.40,81.50 482.00,80.10 C482.60,78.70 483.00,76.50 483.80,76.50 C484.60,76.50 486.02,78.80 486.80,80.10 C487.58,81.40 487.62,83.50 488.50,84.30 C489.38,85.10 491.00,86.30 492.10,84.90 C493.20,83.50 494.20,78.18 495.10,75.90 C496.00,73.62 496.50,71.68 497.50,71.20 C498.50,70.72 500.20,72.02 501.10,73.00 C502.00,73.98 502.20,74.92 502.90,77.10 C503.60,79.28 504.50,84.00 505.30,86.10 C506.10,88.20 506.80,89.60 507.70,89.70 C508.60,89.80 509.90,87.90 510.70,86.70 C511.50,85.50 511.60,84.60 512.50,82.50 C513.40,80.40 514.80,75.78 516.10,74.10 C517.40,72.42 519.02,72.30 520.30,72.40 C521.58,72.50 522.82,73.62 523.80,74.70 C524.78,75.78 525.40,76.90 526.20,78.90 C527.00,80.90 527.60,85.30 528.60,86.70 C529.60,88.10 531.20,87.80 532.20,87.30 C533.20,86.80 533.88,86.62 534.60,83.70 C535.32,80.78 535.47,72.35 536.50,69.80 C537.53,67.25 539.95,67.90 540.80,68.40 C541.65,68.90 541.10,70.85 541.60,72.80 C542.10,74.75 543.07,77.92 543.80,80.10 C544.53,82.28 545.27,84.32 546.00,85.90 C546.73,87.48 547.35,89.48 548.20,89.60 C549.05,89.72 550.38,87.82 551.10,86.60 C551.82,85.38 551.53,84.37 552.50,82.30 C553.47,80.23 555.68,75.30 556.90,74.20 C558.12,73.10 558.95,74.85 559.80,75.70 C560.65,76.55 561.13,77.23 562.00,79.30 C562.87,81.37 564.02,86.02 565.00,88.10 C565.98,90.18 566.93,91.80 567.90,91.80 C568.87,91.80 570.07,89.45 570.80,88.10 C571.53,86.75 571.45,85.77 572.30,83.70 C573.15,81.63 574.68,77.15 575.90,75.70 C577.12,74.25 578.50,74.40 579.60,75.00 C580.70,75.60 581.53,77.23 582.50,79.30 C583.47,81.37 584.43,85.57 585.40,87.40 C586.37,89.23 587.32,90.92 588.30,90.30 C589.28,89.68 590.32,85.65 591.30,83.70 C592.28,81.75 593.23,80.05 594.20,78.60 C595.17,77.15 596.03,75.10 597.10,75.00 C598.17,74.90 599.50,76.98 600.60,78.00 C601.70,79.02 602.57,80.28 603.70,81.10 C604.83,81.92 606.15,83.02 607.40,82.90 C608.65,82.78 610.05,81.43 611.20,80.40 C612.35,79.37 613.27,77.83 614.30,76.70 C615.33,75.57 616.17,74.12 617.40,73.60 C618.63,73.08 620.37,73.28 621.70,73.60 C623.03,73.92 624.05,74.88 625.40,75.50 C626.75,76.12 628.45,76.58 629.80,77.30 C631.15,78.02 632.17,79.07 633.50,79.80 C634.83,80.53 636.55,82.00 637.80,81.70 C639.05,81.40 639.97,79.13 641.00,78.00 C642.03,76.87 642.77,75.42 644.00,74.90 C645.23,74.38 647.25,74.28 648.40,74.90 C649.55,75.52 650.07,77.37 650.90,78.60 C651.73,79.83 652.58,81.17 653.40,82.30 C654.22,83.43 654.77,85.08 655.80,85.40 C656.83,85.72 658.57,85.23 659.60,84.20 C660.63,83.17 661.08,81.27 662.00,79.20 C662.92,77.13 663.95,72.83 665.10,71.80 C666.25,70.77 667.75,72.18 668.90,73.00 C670.05,73.82 671.07,75.47 672.00,76.70 C672.93,77.93 673.68,79.15 674.50,80.40 C675.32,81.65 675.87,83.78 676.90,84.20 C677.93,84.62 679.45,83.53 680.70,82.90 C681.95,82.27 683.78,80.82 684.40,80.40" stroke="#00f" stroke-width="2" stroke-dasharray="2 3" fill="none" stroke-linejoin="round"/></g><g clip-path="url(#cc)"><path d="M46.50,263.35 L326.50,263.35" stroke="#000" stroke-width="2" fill="none" stroke-linejoin="round"/><path d="M46.50,261.89 C47.08,262.36 48.83,264.32 50.00,264.74 C51.17,265.16 52.33,264.80 53.50,264.41 C54.67,264.01 55.83,262.55 57.00,262.37 C58.17,262.19 59.33,263.20 60.50,263.33 C61.67,263.46 62.83,263.04 64.00,263.15 C65.17,263.25 66.33,263.73 67.50,263.96 C68.67,264.18 69.83,264.88 71.00,264.50 C72.17,264.13 73.33,262.23 74.50,261.73 C75.67,261.22 76.83,260.97 78.00,261.46 C79.17,261.96 80.33,264.42 81.50,264.69 C82.67,264.96 83.83,263.13 85.00,263.08 C86.17,263.03 87.33,264.69 88.50,264.40 C89.67,264.11 90.83,261.57 92.00,261.36 C93.17,261.15 94.33,262.65 95.50,263.13 C96.67,263.61 97.83,264.38 99.00,264.24 C100.17,264.09 101.33,262.12 102.50,262.27 C103.67,262.41 104.83,264.68 106.00,265.13 C107.17,265.58 108.33,265.57 109.50,264.96 C110.67,264.35 111.83,262.06 113.00,261.47 C114.17,260.89 115.33,261.11 116.50,261.45 C117.67,261.79 118.83,262.91 120.00,263.52 C121.17,264.12 122.33,265.21 123.50,265.11 C124.67,265.00 125.83,263.36 127.00,262.87 C128.17,262.39 129.33,262.19 130.50,262.22 C131.67,262.24 132.83,263.16 134.00,263.04 C135.17,262.91 136.33,261.60 137.50,261.47 C138.67,261.33 139.83,261.96 141.00,262.24 C142.17,262.51 143.33,262.92 144.50,263.10 C145.67,263.28 146.83,263.47 148.00,263.33 C149.17,263.20 150.33,262.46 151.50,262.28 C152.67,262.11 153.83,262.28 155.00,262.27 C156.17,262.26 157.33,262.07 158.50,262.23 C159.67,262.38 160.83,263.14 162.00,263.19 C163.17,263.24 164.33,262.80 165.50,262.51 C166.67,262.22 167.83,261.07 169.00,261.44 C170.17,261.80 171.33,264.34 172.50,264.70 C173.67,265.06 174.83,263.71 176.00,263.58 C177.17,263.45 178.33,264.17 179.50,263.92 C180.67,263.67 181.83,261.86 183.00,262.09 C184.17,262.33 185.33,264.87 186.50,265.32 C187.67,265.77 188.83,265.37 190.00,264.79 C191.17,264.21 192.33,262.19 193.50,261.83 C194.67,261.48 195.83,262.28 197.00,262.68 C198.17,263.08 199.33,263.98 200.50,264.24 C201.67,264.49 202.83,264.05 204.00,264.19 C205.17,264.34 206.33,265.29 207.50,265.10 C208.67,264.90 209.83,263.11 211.00,263.04 C212.17,262.97 213.33,264.50 214.50,264.67 C215.67,264.84 216.83,264.38 218.00,264.03 C219.17,263.68 220.33,262.62 221.50,262.56 C222.67,262.51 223.83,263.31 225.00,263.70 C226.17,264.09 227.33,264.71 228.50,264.88 C229.67,265.05 230.83,264.99 232.00,264.73 C233.17,264.48 234.33,263.54 235.50,263.37 C236.67,263.20 237.83,264.02 239.00,263.71 C240.17,263.39 241.33,261.72 242.50,261.49 C243.67,261.26 244.83,261.81 246.00,262.32 C247.17,262.83 248.33,264.43 249.50,264.54 C250.67,264.65 251.83,263.42 253.00,263.01 C254.17,262.59 255.33,261.95 256.50,262.04 C257.67,262.13 258.83,263.19 260.00,263.55 C261.17,263.90 262.33,264.08 263.50,264.16 C264.67,264.25 265.83,264.27 267.00,264.05 C268.17,263.83 269.33,263.01 270.50,262.85 C271.67,262.69 272.83,263.02 274.00,263.11 C275.17,263.19 276.33,263.16 277.50,263.38 C278.67,263.61 279.83,264.46 281.00,264.46 C282.17,264.47 283.33,263.69 284.50,263.43 C285.67,263.18 286.83,262.94 288.00,262.92 C289.17,262.90 290.33,263.55 291.50,263.31 C292.67,263.07 293.83,261.77 295.00,261.47 C296.17,261.17 297.33,261.07 298.50,261.52 C299.67,261.97 300.83,263.54 302.00,264.16 C303.17,264.79 304.33,265.36 305.50,265.28 C306.67,265.21 307.83,264.12 309.00,263.72 C310.17,263.33 311.33,263.21 312.50,262.92 C313.67,262.64 314.83,261.96 316.00,262.03 C317.17,262.10 318.33,262.82 319.50,263.36 C320.67,263.90 321.83,265.10 323.00,265.28 C324.17,265.46 325.92,264.57 326.50,264.43" stroke="#f00" stroke-width="2" stroke-dasharray="12.6 7.4" fill="none" stroke-linejoin="round"/><path d="M46.50,265.17 C47.08,265.17 48.83,265.74 50.00,265.14 C51.17,264.54 52.33,262.15 53.50,261.58 C54.67,261.00 55.83,261.17 57.00,261.69 C58.17,262.21 59.33,264.26 60.50,264.69 C61.67,265.13 62.83,264.40 64.00,264.29 C65.17,264.18 66.33,264.31 67.50,264.03 C68.67,263.74 69.83,262.63 71.00,262.58 C72.17,262.54 73.33,263.57 74.50,263.77 C75.67,263.97 76.83,263.79 78.00,263.78 C79.17,263.76 80.33,263.97 81.50,263.67 C82.67,263.38 83.83,262.08 85.00,261.98 C86.17,261.88 87.33,262.92 88.50,263.07 C89.67,263.23 90.83,262.73 92.00,262.92 C93.17,263.12 94.33,263.84 95.50,264.24 C96.67,264.64 97.83,265.18 99.00,265.33 C100.17,265.48 101.33,265.45 102.50,265.15 C103.67,264.85 104.83,263.86 106.00,263.53 C107.17,263.19 108.33,263.31 109.50,263.13 C110.67,262.95 111.83,262.70 113.00,262.42 C114.17,262.15 115.33,261.65 116.50,261.49 C117.67,261.33 118.83,261.17 120.00,261.46 C121.17,261.75 122.33,263.02 123.50,263.21 C124.67,263.40 125.83,262.68 127.00,262.62 C128.17,262.57 129.33,262.49 130.50,262.87 C131.67,263.25 132.83,264.82 134.00,264.92 C135.17,265.01 136.33,263.67 137.50,263.45 C138.67,263.23 139.83,263.79 141.00,263.59 C142.17,263.40 143.33,262.65 144.50,262.29 C145.67,261.94 146.83,261.39 148.00,261.45 C149.17,261.50 150.33,262.58 151.50,262.65 C152.67,262.73 153.83,261.77 155.00,261.90 C156.17,262.02 157.33,262.82 158.50,263.39 C159.67,263.97 160.83,265.24 162.00,265.34 C163.17,265.45 164.33,264.59 165.50,264.05 C166.67,263.50 167.83,261.93 169.00,262.08 C170.17,262.22 171.33,264.51 172.50,264.92 C173.67,265.33 174.83,264.64 176.00,264.54 C177.17,264.43 178.33,264.21 179.50,264.29 C180.67,264.36 181.83,264.96 183.00,264.98 C184.17,265.00 185.33,264.48 186.50,264.40 C187.67,264.32 188.83,264.78 190.00,264.51 C191.17,264.24 192.33,262.64 193.50,262.77 C194.67,262.89 195.83,264.87 197.00,265.27 C198.17,265.68 199.33,265.74 200.50,265.20 C201.67,264.65 202.83,262.13 204.00,261.99 C205.17,261.86 206.33,264.00 207.50,264.37 C208.67,264.74 209.83,264.41 211.00,264.21 C212.17,264.02 213.33,263.32 214.50,263.20 C215.67,263.07 216.83,263.45 218.00,263.47 C219.17,263.49 220.33,263.05 221.50,263.31 C222.67,263.57 223.83,265.04 225.00,265.05 C226.17,265.06 227.33,263.42 228.50,263.35 C229.67,263.29 230.83,264.77 232.00,264.68 C233.17,264.58 234.33,262.73 235.50,262.77 C236.67,262.80 237.83,264.52 239.00,264.88 C240.17,265.25 241.33,265.23 242.50,264.95 C243.67,264.67 244.83,263.42 246.00,263.19 C247.17,262.97 248.33,263.31 249.50,263.62 C250.67,263.93 251.83,264.93 253.00,265.03 C254.17,265.14 255.33,264.53 256.50,264.25 C257.67,263.96 258.83,263.63 260.00,263.30 C261.17,262.96 262.33,262.35 263.50,262.24 C264.67,262.13 265.83,262.33 267.00,262.65 C268.17,262.97 269.33,264.25 270.50,264.15 C271.67,264.04 272.83,261.88 274.00,262.01 C275.17,262.15 276.33,264.91 277.50,264.98 C278.67,265.05 279.83,262.42 281.00,262.42 C282.17,262.42 283.33,264.97 284.50,265.00 C285.67,265.02 286.83,262.56 288.00,262.59 C289.17,262.62 290.33,264.92 291.50,265.18 C292.67,265.44 293.83,264.48 295.00,264.17 C296.17,263.87 297.33,263.49 298.50,263.37 C299.67,263.24 300.83,263.32 302.00,263.42 C303.17,263.52 304.33,263.91 305.50,263.96 C306.67,264.00 307.83,263.93 309.00,263.70 C310.17,263.48 311.33,262.85 312.50,262.60 C313.67,262.34 314.83,262.05 316.00,262.18 C317.17,262.31 318.33,262.91 319.50,263.40 C320.67,263.88 321.83,265.01 323.00,265.09 C324.17,265.16 325.92,264.05 326.50,263.84" stroke="#0f0" stroke-width="2" stroke-dasharray="10 3.6 2.8 3.6" fill="none" stroke-linejoin="round"/><path d="M46.50,262.30 C47.08,262.51 48.83,263.44 50.00,263.53 C51.17,263.61 52.33,262.79 53.50,262.83 C54.67,262.87 55.83,263.60 57.00,263.77 C58.17,263.94 59.33,264.21 60.50,263.85 C61.67,263.49 62.83,262.02 64.00,261.61 C65.17,261.20 66.33,260.89 67.50,261.40 C68.67,261.92 69.83,264.54 71.00,264.70 C72.17,264.86 73.33,262.79 74.50,262.39 C75.67,261.99 76.83,261.80 78.00,262.29 C79.17,262.78 80.33,265.18 81.50,265.33 C82.67,265.49 83.83,263.34 85.00,263.23 C86.17,263.12 87.33,264.69 88.50,264.70 C89.67,264.70 90.83,263.39 92.00,263.26 C93.17,263.12 94.33,264.12 95.50,263.91 C96.67,263.69 97.83,261.96 99.00,261.95 C100.17,261.95 101.33,263.41 102.50,263.89 C103.67,264.37 104.83,264.90 106.00,264.82 C107.17,264.75 108.33,263.53 109.50,263.44 C110.67,263.36 111.83,264.22 113.00,264.32 C114.17,264.41 115.33,264.49 116.50,264.04 C117.67,263.58 118.83,261.55 120.00,261.61 C121.17,261.66 122.33,264.03 123.50,264.38 C124.67,264.73 125.83,264.02 127.00,263.71 C128.17,263.41 129.33,262.93 130.50,262.56 C131.67,262.18 132.83,261.10 134.00,261.47 C135.17,261.85 136.33,264.52 137.50,264.81 C138.67,265.11 139.83,263.34 141.00,263.24 C142.17,263.14 143.33,263.95 144.50,264.23 C145.67,264.50 146.83,264.87 148.00,264.87 C149.17,264.86 150.33,264.18 151.50,264.21 C152.67,264.23 153.83,265.25 155.00,265.03 C156.17,264.82 157.33,263.01 158.50,262.93 C159.67,262.85 160.83,264.52 162.00,264.55 C163.17,264.59 164.33,263.04 165.50,263.13 C166.67,263.22 167.83,264.80 169.00,265.09 C170.17,265.38 171.33,265.42 172.50,264.87 C173.67,264.31 174.83,262.24 176.00,261.74 C177.17,261.24 178.33,261.81 179.50,261.89 C180.67,261.97 181.83,261.66 183.00,262.22 C184.17,262.77 185.33,265.07 186.50,265.21 C187.67,265.36 188.83,263.32 190.00,263.09 C191.17,262.87 192.33,263.95 193.50,263.86 C194.67,263.77 195.83,262.63 197.00,262.55 C198.17,262.47 199.33,263.32 200.50,263.38 C201.67,263.44 202.83,263.00 204.00,262.89 C205.17,262.79 206.33,262.62 207.50,262.75 C208.67,262.89 209.83,263.53 211.00,263.69 C212.17,263.85 213.33,263.47 214.50,263.69 C215.67,263.90 216.83,264.90 218.00,264.97 C219.17,265.03 220.33,264.06 221.50,264.08 C222.67,264.09 223.83,264.95 225.00,265.07 C226.17,265.18 227.33,264.73 228.50,264.78 C229.67,264.82 230.83,265.44 232.00,265.31 C233.17,265.19 234.33,264.59 235.50,264.04 C236.67,263.48 237.83,261.88 239.00,262.00 C240.17,262.13 241.33,264.26 242.50,264.79 C243.67,265.33 244.83,265.18 246.00,265.21 C247.17,265.24 248.33,265.23 249.50,264.97 C250.67,264.71 251.83,263.75 253.00,263.63 C254.17,263.50 255.33,264.44 256.50,264.21 C257.67,263.97 258.83,262.12 260.00,262.19 C261.17,262.27 262.33,264.43 263.50,264.68 C264.67,264.92 265.83,264.01 267.00,263.64 C268.17,263.28 269.33,262.83 270.50,262.49 C271.67,262.15 272.83,261.22 274.00,261.60 C275.17,261.98 276.33,264.15 277.50,264.77 C278.67,265.38 279.83,265.82 281.00,265.31 C282.17,264.80 283.33,261.83 284.50,261.70 C285.67,261.58 286.83,264.34 288.00,264.55 C289.17,264.77 290.33,263.43 291.50,262.99 C292.67,262.56 293.83,262.03 295.00,261.95 C296.17,261.88 297.33,262.11 298.50,262.53 C299.67,262.94 300.83,264.04 302.00,264.43 C303.17,264.81 304.33,265.32 305.50,264.84 C306.67,264.36 307.83,261.70 309.00,261.53 C310.17,261.35 311.33,263.81 312.50,263.81 C313.67,263.81 314.83,261.46 316.00,261.53 C317.17,261.60 318.33,264.03 319.50,264.22 C320.67,264.41 321.83,262.57 323.00,262.67 C324.17,262.78 325.92,264.51 326.50,264.87" stroke="#00f" stroke-width="2" stroke-dasharray="2 3" fill="none" stroke-linejoin="round"/></g><g clip-path="url(#cd)"><g clip-path="url(#cdo0)"><path d="M405.00,327.40 C405.58,327.02 407.33,325.77 408.50,325.10 C409.67,324.43 410.83,323.92 412.00,323.40 C413.17,322.88 414.33,321.90 415.50,322.00 C416.67,322.10 417.83,323.28 419.00,324.00 C420.17,324.72 421.33,326.12 422.50,326.30 C423.67,326.48 424.83,325.40 426.00,325.10 C427.17,324.80 428.33,324.60 429.50,324.50 C430.67,324.40 431.92,324.20 433.00,324.50 C434.08,324.80 435.08,326.05 436.00,326.30 C436.92,326.55 437.63,326.30 438.50,326.00 C439.37,325.70 440.17,325.03 441.20,324.50 C442.23,323.97 443.53,322.90 444.70,322.80 C445.87,322.70 447.23,323.13 448.20,323.90 C449.17,324.67 449.37,326.88 450.50,327.40 C451.63,327.92 453.43,327.38 455.00,327.00 C456.57,326.62 458.60,325.03 459.90,325.10 C461.20,325.17 461.83,326.92 462.80,327.40 C463.77,327.88 464.82,328.18 465.70,328.00 C466.58,327.82 467.22,326.72 468.10,326.30 C468.98,325.88 470.03,325.70 471.00,325.50 C471.97,325.30 472.83,324.78 473.90,325.10 C474.97,325.42 476.33,326.72 477.40,327.40 C478.47,328.08 479.08,329.10 480.30,329.20 C481.52,329.30 483.20,328.12 484.70,328.00 C486.20,327.88 487.75,328.50 489.30,328.50 C490.85,328.50 492.63,328.48 494.00,328.00 C495.37,327.52 496.62,326.58 497.50,325.60 C498.38,324.62 498.72,323.47 499.30,322.10 C499.88,320.73 500.32,318.57 501.00,317.40 C501.68,316.23 502.23,315.68 503.40,315.10 C504.57,314.52 506.65,314.18 508.00,313.90 C509.35,313.62 510.33,313.78 511.50,313.40 C512.67,313.02 513.63,312.38 515.00,311.60 C516.37,310.82 518.33,308.90 519.70,308.70 C521.07,308.50 522.03,309.72 523.20,310.40 C524.37,311.08 525.53,312.22 526.70,312.80 C527.87,313.38 529.03,313.80 530.20,313.90 C531.37,314.00 532.53,313.78 533.70,313.40 C534.87,313.02 536.03,312.00 537.20,311.60 C538.37,311.20 539.53,310.80 540.70,311.00 C541.87,311.20 543.12,311.92 544.20,312.80 C545.28,313.68 546.22,314.75 547.20,316.30 C548.18,317.85 549.23,320.73 550.10,322.10 C550.97,323.47 551.53,324.88 552.40,324.50 C553.27,324.12 554.40,321.22 555.30,319.80 C556.20,318.38 556.93,317.45 557.80,316.00 C558.67,314.55 559.58,311.68 560.50,311.10 C561.42,310.52 562.37,311.68 563.30,312.50 C564.23,313.32 565.30,315.30 566.10,316.00 C566.90,316.70 567.30,317.17 568.10,316.70 C568.90,316.23 569.85,314.02 570.90,313.20 C571.95,312.38 573.13,311.80 574.40,311.80 C575.67,311.80 577.12,313.20 578.50,313.20 C579.88,313.20 581.32,312.38 582.70,311.80 C584.08,311.22 585.42,310.50 586.80,309.70 C588.18,308.90 589.62,307.80 591.00,307.00 C592.38,306.20 593.72,305.25 595.10,304.90 C596.48,304.55 598.27,304.43 599.30,304.90 C600.33,305.37 600.73,306.08 601.30,307.70 C601.87,309.32 602.12,312.30 602.70,314.60 C603.28,316.90 604.10,319.43 604.80,321.50 C605.50,323.57 605.98,325.73 606.90,327.00 C607.82,328.27 609.27,329.33 610.30,329.10 C611.33,328.87 612.17,327.22 613.10,325.60 C614.03,323.98 614.98,321.00 615.90,319.40 C616.82,317.80 617.40,316.52 618.60,316.00 C619.80,315.48 621.93,315.63 623.10,316.30 C624.27,316.97 624.77,318.55 625.60,320.00 C626.43,321.45 627.20,323.75 628.10,325.00 C629.00,326.25 630.05,327.18 631.00,327.50 C631.95,327.82 632.92,327.63 633.80,326.90 C634.68,326.17 635.37,324.15 636.30,323.10 C637.23,322.05 638.57,321.22 639.40,320.60 C640.23,319.98 640.53,319.17 641.30,319.40 C642.07,319.63 643.07,321.17 644.00,322.00 C644.93,322.83 645.68,323.80 646.90,324.40 C648.12,325.00 649.95,325.40 651.30,325.60 C652.65,325.80 653.87,325.80 655.00,325.60 C656.13,325.40 657.02,324.63 658.10,324.40 C659.18,324.17 660.35,324.20 661.50,324.20 C662.65,324.20 663.78,324.27 665.00,324.40 C666.22,324.53 667.55,324.80 668.80,325.00 C670.05,325.20 671.25,325.60 672.50,325.60 C673.75,325.60 675.05,325.10 676.30,325.00 C677.55,324.90 678.63,325.00 680.00,325.00 C681.37,325.00 683.75,325.00 684.50,325.00" stroke="#f00" stroke-width="2" stroke-dasharray="0.00 4.76 8.19 6.93 13.50 7.73 9.18 14.43 4.99 8.15 9.64 7.75 5.82 147.84 9.94 8.60 12.01 5.91 10.89 5.85 11.29 7.67 11.21 7.23 11.46 7.20 1.00 1000.00" fill="none" stroke-linejoin="round"/></g><path clip-path="url(#cdo0_0)" d="M405.00,327.40 C405.58,327.02 407.33,325.77 408.50,325.10 C409.67,324.43 410.83,323.92 412.00,323.40 C413.17,322.88 414.33,321.90 415.50,322.00 C416.67,322.10 417.83,323.28 419.00,324.00 C420.17,324.72 421.33,326.12 422.50,326.30 C423.67,326.48 424.83,325.40 426.00,325.10 C427.17,324.80 428.33,324.60 429.50,324.50 C430.67,324.40 431.92,324.20 433.00,324.50 C434.08,324.80 435.08,326.05 436.00,326.30 C436.92,326.55 437.63,326.30 438.50,326.00 C439.37,325.70 440.17,325.03 441.20,324.50 C442.23,323.97 443.53,322.90 444.70,322.80 C445.87,322.70 447.23,323.13 448.20,323.90 C449.17,324.67 449.37,326.88 450.50,327.40 C451.63,327.92 453.43,327.38 455.00,327.00 C456.57,326.62 458.60,325.03 459.90,325.10 C461.20,325.17 461.83,326.92 462.80,327.40 C463.77,327.88 464.82,328.18 465.70,328.00 C466.58,327.82 467.22,326.72 468.10,326.30 C468.98,325.88 470.03,325.70 471.00,325.50 C471.97,325.30 472.83,324.78 473.90,325.10 C474.97,325.42 476.33,326.72 477.40,327.40 C478.47,328.08 479.08,329.10 480.30,329.20 C481.52,329.30 483.20,328.12 484.70,328.00 C486.20,327.88 487.75,328.50 489.30,328.50 C490.85,328.50 492.63,328.48 494.00,328.00 C495.37,327.52 496.62,326.58 497.50,325.60 C498.38,324.62 498.72,323.47 499.30,322.10 C499.88,320.73 500.32,318.57 501.00,317.40 C501.68,316.23 502.23,315.68 503.40,315.10 C504.57,314.52 506.65,314.18 508.00,313.90 C509.35,313.62 510.33,313.78 511.50,313.40 C512.67,313.02 513.63,312.38 515.00,311.60 C516.37,310.82 518.33,308.90 519.70,308.70 C521.07,308.50 522.03,309.72 523.20,310.40 C524.37,311.08 525.53,312.22 526.70,312.80 C527.87,313.38 529.03,313.80 530.20,313.90 C531.37,314.00 532.53,313.78 533.70,313.40 C534.87,313.02 536.03,312.00 537.20,311.60 C538.37,311.20 539.53,310.80 540.70,311.00 C541.87,311.20 543.12,311.92 544.20,312.80 C545.28,313.68 546.22,314.75 547.20,316.30 C548.18,317.85 549.23,320.73 550.10,322.10 C550.97,323.47 551.53,324.88 552.40,324.50 C553.27,324.12 554.40,321.22 555.30,319.80 C556.20,318.38 556.93,317.45 557.80,316.00 C558.67,314.55 559.58,311.68 560.50,311.10 C561.42,310.52 562.37,311.68 563.30,312.50 C564.23,313.32 565.30,315.30 566.10,316.00 C566.90,316.70 567.30,317.17 568.10,316.70 C568.90,316.23 569.85,314.02 570.90,313.20 C571.95,312.38 573.13,311.80 574.40,311.80 C575.67,311.80 577.12,313.20 578.50,313.20 C579.88,313.20 581.32,312.38 582.70,311.80 C584.08,311.22 585.42,310.50 586.80,309.70 C588.18,308.90 589.62,307.80 591.00,307.00 C592.38,306.20 593.72,305.25 595.10,304.90 C596.48,304.55 598.27,304.43 599.30,304.90 C600.33,305.37 600.73,306.08 601.30,307.70 C601.87,309.32 602.12,312.30 602.70,314.60 C603.28,316.90 604.10,319.43 604.80,321.50 C605.50,323.57 605.98,325.73 606.90,327.00 C607.82,328.27 609.27,329.33 610.30,329.10 C611.33,328.87 612.17,327.22 613.10,325.60 C614.03,323.98 614.98,321.00 615.90,319.40 C616.82,317.80 617.40,316.52 618.60,316.00 C619.80,315.48 621.93,315.63 623.10,316.30 C624.27,316.97 624.77,318.55 625.60,320.00 C626.43,321.45 627.20,323.75 628.10,325.00 C629.00,326.25 630.05,327.18 631.00,327.50 C631.95,327.82 632.92,327.63 633.80,326.90 C634.68,326.17 635.37,324.15 636.30,323.10 C637.23,322.05 638.57,321.22 639.40,320.60 C640.23,319.98 640.53,319.17 641.30,319.40 C642.07,319.63 643.07,321.17 644.00,322.00 C644.93,322.83 645.68,323.80 646.90,324.40 C648.12,325.00 649.95,325.40 651.30,325.60 C652.65,325.80 653.87,325.80 655.00,325.60 C656.13,325.40 657.02,324.63 658.10,324.40 C659.18,324.17 660.35,324.20 661.50,324.20 C662.65,324.20 663.78,324.27 665.00,324.40 C666.22,324.53 667.55,324.80 668.80,325.00 C670.05,325.20 671.25,325.60 672.50,325.60 C673.75,325.60 675.05,325.10 676.30,325.00 C677.55,324.90 678.63,325.00 680.00,325.00 C681.37,325.00 683.75,325.00 684.50,325.00" stroke="#f00" stroke-width="2" stroke-dasharray="6 1.6" fill="none" stroke-linejoin="round"/><g clip-path="url(#cdo1)"><path d="M405.00,328.00 C405.38,327.72 406.52,326.88 407.30,326.30 C408.08,325.72 408.92,324.50 409.70,324.50 C410.48,324.50 411.23,326.30 412.00,326.30 C412.77,326.30 413.33,324.32 414.30,324.50 C415.27,324.68 416.62,326.72 417.80,327.40 C418.98,328.08 420.22,328.68 421.40,328.60 C422.58,328.52 423.73,327.10 424.90,326.90 C426.07,326.70 427.23,327.12 428.40,327.40 C429.57,327.68 430.73,329.18 431.90,328.60 C433.07,328.02 434.23,324.97 435.40,323.90 C436.57,322.83 437.83,322.10 438.90,322.20 C439.97,322.30 440.83,323.92 441.80,324.50 C442.77,325.08 443.63,325.40 444.70,325.70 C445.77,326.00 447.15,326.25 448.20,326.30 C449.25,326.35 450.02,326.20 451.00,326.00 C451.98,325.80 453.00,325.45 454.10,325.10 C455.20,324.75 456.43,324.18 457.60,323.90 C458.77,323.62 459.93,323.68 461.10,323.40 C462.27,323.12 463.43,322.98 464.60,322.20 C465.77,321.42 467.23,318.60 468.10,318.70 C468.97,318.80 469.32,321.25 469.80,322.80 C470.28,324.35 470.22,327.82 471.00,328.00 C471.78,328.18 473.43,324.28 474.50,323.90 C475.57,323.52 476.33,325.20 477.40,325.70 C478.47,326.20 479.88,326.43 480.90,326.90 C481.92,327.37 482.48,328.23 483.50,328.50 C484.52,328.77 485.83,328.58 487.00,328.50 C488.17,328.42 489.33,328.18 490.50,328.00 C491.67,327.82 492.83,328.08 494.00,327.40 C495.17,326.72 496.52,325.47 497.50,323.90 C498.48,322.33 499.02,319.17 499.90,318.00 C500.78,316.83 501.83,316.50 502.80,316.90 C503.77,317.30 504.73,319.33 505.70,320.40 C506.67,321.47 507.53,322.82 508.60,323.30 C509.67,323.78 510.93,323.50 512.10,323.30 C513.27,323.10 514.43,322.88 515.60,322.10 C516.77,321.32 517.83,319.77 519.10,318.60 C520.37,317.43 521.93,315.58 523.20,315.10 C524.47,314.62 525.53,315.12 526.70,315.70 C527.87,316.28 529.03,317.73 530.20,318.60 C531.37,319.47 532.53,320.12 533.70,320.90 C534.87,321.68 536.03,323.30 537.20,323.30 C538.37,323.30 539.62,321.78 540.70,320.90 C541.78,320.02 542.62,318.77 543.70,318.00 C544.78,317.23 545.95,316.48 547.20,316.30 C548.45,316.12 549.90,316.73 551.20,316.90 C552.50,317.07 553.67,317.33 555.00,317.30 C556.33,317.27 557.82,317.50 559.20,316.70 C560.58,315.90 561.93,314.12 563.30,312.50 C564.67,310.88 566.02,308.73 567.40,307.00 C568.78,305.27 570.32,303.15 571.60,302.10 C572.88,301.05 573.95,300.58 575.10,300.70 C576.25,300.82 577.23,302.22 578.50,302.80 C579.77,303.38 581.20,303.62 582.70,304.20 C584.20,304.78 586.12,306.18 587.50,306.30 C588.88,306.42 589.85,305.83 591.00,304.90 C592.15,303.97 593.25,302.20 594.40,300.70 C595.55,299.20 596.97,296.93 597.90,295.90 C598.83,294.87 599.43,294.27 600.00,294.50 C600.57,294.73 600.73,295.92 601.30,297.30 C601.87,298.68 602.58,300.85 603.40,302.80 C604.22,304.75 605.27,307.27 606.20,309.00 C607.13,310.73 608.08,312.62 609.00,313.20 C609.92,313.78 610.78,313.42 611.70,312.50 C612.62,311.58 613.47,309.20 614.50,307.70 C615.53,306.20 616.98,304.37 617.90,303.50 C618.82,302.63 619.02,302.57 620.00,302.50 C620.98,302.43 622.75,302.37 623.80,303.10 C624.85,303.83 625.47,305.43 626.30,306.90 C627.13,308.37 627.97,310.23 628.80,311.90 C629.63,313.57 630.47,315.75 631.30,316.90 C632.13,318.05 632.97,319.12 633.80,318.80 C634.63,318.48 635.37,316.37 636.30,315.00 C637.23,313.63 638.47,311.85 639.40,310.60 C640.33,309.35 640.97,308.22 641.90,307.50 C642.83,306.78 643.97,306.30 645.00,306.30 C646.03,306.30 647.05,306.67 648.10,307.50 C649.15,308.33 650.15,310.25 651.30,311.30 C652.45,312.35 653.75,313.08 655.00,313.80 C656.25,314.52 657.33,315.40 658.80,315.60 C660.27,315.80 662.13,315.10 663.80,315.00 C665.47,314.90 667.13,315.00 668.80,315.00 C670.47,315.00 672.13,314.90 673.80,315.00 C675.47,315.10 677.25,314.97 678.80,315.60 C680.35,316.23 682.15,318.15 683.10,318.80 C684.05,319.45 684.27,319.38 684.50,319.50" stroke="#0f0" stroke-width="2" stroke-dasharray="0.00 0.01 10.11 4.29 2.80 2.99 8.01 3.38 2.80 2.65 10.02 3.93 2.80 3.20 6.78 3.71 2.80 3.19 9.65 4.20 2.80 2.62 6.71 2.65 2.80 2.04 9.80 4.03 2.80 1.28 7.71 107.66 2.80 1.02 6.92 2.59 2.80 1.02 8.98 3.38 2.80 4.28 8.07 3.64 2.80 3.42 8.98 2.15 2.80 4.14 8.56 2.40 2.80 3.70 8.15 3.24 2.80 3.45 9.50 3.33 2.80 3.72 2.47 1000.00" fill="none" stroke-linejoin="round"/></g><path clip-path="url(#cdo1_0)" d="M405.00,328.00 C405.38,327.72 406.52,326.88 407.30,326.30 C408.08,325.72 408.92,324.50 409.70,324.50 C410.48,324.50 411.23,326.30 412.00,326.30 C412.77,326.30 413.33,324.32 414.30,324.50 C415.27,324.68 416.62,326.72 417.80,327.40 C418.98,328.08 420.22,328.68 421.40,328.60 C422.58,328.52 423.73,327.10 424.90,326.90 C426.07,326.70 427.23,327.12 428.40,327.40 C429.57,327.68 430.73,329.18 431.90,328.60 C433.07,328.02 434.23,324.97 435.40,323.90 C436.57,322.83 437.83,322.10 438.90,322.20 C439.97,322.30 440.83,323.92 441.80,324.50 C442.77,325.08 443.63,325.40 444.70,325.70 C445.77,326.00 447.15,326.25 448.20,326.30 C449.25,326.35 450.02,326.20 451.00,326.00 C451.98,325.80 453.00,325.45 454.10,325.10 C455.20,324.75 456.43,324.18 457.60,323.90 C458.77,323.62 459.93,323.68 461.10,323.40 C462.27,323.12 463.43,322.98 464.60,322.20 C465.77,321.42 467.23,318.60 468.10,318.70 C468.97,318.80 469.32,321.25 469.80,322.80 C470.28,324.35 470.22,327.82 471.00,328.00 C471.78,328.18 473.43,324.28 474.50,323.90 C475.57,323.52 476.33,325.20 477.40,325.70 C478.47,326.20 479.88,326.43 480.90,326.90 C481.92,327.37 482.48,328.23 483.50,328.50 C484.52,328.77 485.83,328.58 487.00,328.50 C488.17,328.42 489.33,328.18 490.50,328.00 C491.67,327.82 492.83,328.08 494.00,327.40 C495.17,326.72 496.52,325.47 497.50,323.90 C498.48,322.33 499.02,319.17 499.90,318.00 C500.78,316.83 501.83,316.50 502.80,316.90 C503.77,317.30 504.73,319.33 505.70,320.40 C506.67,321.47 507.53,322.82 508.60,323.30 C509.67,323.78 510.93,323.50 512.10,323.30 C513.27,323.10 514.43,322.88 515.60,322.10 C516.77,321.32 517.83,319.77 519.10,318.60 C520.37,317.43 521.93,315.58 523.20,315.10 C524.47,314.62 525.53,315.12 526.70,315.70 C527.87,316.28 529.03,317.73 530.20,318.60 C531.37,319.47 532.53,320.12 533.70,320.90 C534.87,321.68 536.03,323.30 537.20,323.30 C538.37,323.30 539.62,321.78 540.70,320.90 C541.78,320.02 542.62,318.77 543.70,318.00 C544.78,317.23 545.95,316.48 547.20,316.30 C548.45,316.12 549.90,316.73 551.20,316.90 C552.50,317.07 553.67,317.33 555.00,317.30 C556.33,317.27 557.82,317.50 559.20,316.70 C560.58,315.90 561.93,314.12 563.30,312.50 C564.67,310.88 566.02,308.73 567.40,307.00 C568.78,305.27 570.32,303.15 571.60,302.10 C572.88,301.05 573.95,300.58 575.10,300.70 C576.25,300.82 577.23,302.22 578.50,302.80 C579.77,303.38 581.20,303.62 582.70,304.20 C584.20,304.78 586.12,306.18 587.50,306.30 C588.88,306.42 589.85,305.83 591.00,304.90 C592.15,303.97 593.25,302.20 594.40,300.70 C595.55,299.20 596.97,296.93 597.90,295.90 C598.83,294.87 599.43,294.27 600.00,294.50 C600.57,294.73 600.73,295.92 601.30,297.30 C601.87,298.68 602.58,300.85 603.40,302.80 C604.22,304.75 605.27,307.27 606.20,309.00 C607.13,310.73 608.08,312.62 609.00,313.20 C609.92,313.78 610.78,313.42 611.70,312.50 C612.62,311.58 613.47,309.20 614.50,307.70 C615.53,306.20 616.98,304.37 617.90,303.50 C618.82,302.63 619.02,302.57 620.00,302.50 C620.98,302.43 622.75,302.37 623.80,303.10 C624.85,303.83 625.47,305.43 626.30,306.90 C627.13,308.37 627.97,310.23 628.80,311.90 C629.63,313.57 630.47,315.75 631.30,316.90 C632.13,318.05 632.97,319.12 633.80,318.80 C634.63,318.48 635.37,316.37 636.30,315.00 C637.23,313.63 638.47,311.85 639.40,310.60 C640.33,309.35 640.97,308.22 641.90,307.50 C642.83,306.78 643.97,306.30 645.00,306.30 C646.03,306.30 647.05,306.67 648.10,307.50 C649.15,308.33 650.15,310.25 651.30,311.30 C652.45,312.35 653.75,313.08 655.00,313.80 C656.25,314.52 657.33,315.40 658.80,315.60 C660.27,315.80 662.13,315.10 663.80,315.00 C665.47,314.90 667.13,315.00 668.80,315.00 C670.47,315.00 672.13,314.90 673.80,315.00 C675.47,315.10 677.25,314.97 678.80,315.60 C680.35,316.23 682.15,318.15 683.10,318.80 C684.05,319.45 684.27,319.38 684.50,319.50" stroke="#0f0" stroke-width="1.8" fill="none" stroke-linejoin="round"/><g clip-path="url(#cdo2)"><path d="M405.00,325.00 C405.20,324.63 405.62,322.40 406.20,322.80 C406.78,323.20 407.73,327.12 408.50,327.40 C409.27,327.68 409.83,325.08 410.80,324.50 C411.77,323.92 413.22,323.32 414.30,323.90 C415.38,324.48 416.32,327.90 417.30,328.00 C418.28,328.10 419.13,325.37 420.20,324.50 C421.27,323.63 422.63,322.40 423.70,322.80 C424.77,323.20 425.73,326.03 426.60,326.90 C427.47,327.77 428.22,328.50 428.90,328.00 C429.58,327.50 429.92,325.07 430.70,323.90 C431.48,322.73 432.73,320.90 433.60,321.00 C434.47,321.10 435.02,323.23 435.90,324.50 C436.78,325.77 438.02,328.50 438.90,328.60 C439.78,328.70 440.23,325.97 441.20,325.10 C442.17,324.23 443.43,323.10 444.70,323.40 C445.97,323.70 447.43,326.90 448.80,326.90 C450.17,326.90 451.63,323.80 452.90,323.40 C454.17,323.00 455.23,324.02 456.40,324.50 C457.57,324.98 458.63,326.78 459.90,326.30 C461.17,325.82 462.83,321.60 464.00,321.60 C465.17,321.60 466.03,325.13 466.90,326.30 C467.77,327.47 468.32,328.60 469.20,328.60 C470.08,328.60 471.22,327.08 472.20,326.30 C473.18,325.52 474.13,324.10 475.10,323.90 C476.07,323.70 476.80,324.92 478.00,325.10 C479.20,325.28 481.00,324.52 482.30,325.00 C483.60,325.48 484.63,327.50 485.80,328.00 C486.97,328.50 487.93,328.40 489.30,328.00 C490.67,327.60 492.73,325.32 494.00,325.60 C495.27,325.88 496.12,330.18 496.90,329.70 C497.68,329.22 498.12,324.55 498.70,322.70 C499.28,320.85 499.82,319.77 500.40,318.60 C500.98,317.43 501.32,315.90 502.20,315.70 C503.08,315.50 504.33,316.82 505.70,317.40 C507.07,317.98 509.03,318.52 510.40,319.20 C511.77,319.88 512.73,320.92 513.90,321.50 C515.07,322.08 516.13,322.88 517.40,322.70 C518.67,322.52 520.33,320.70 521.50,320.40 C522.67,320.10 523.33,320.22 524.40,320.90 C525.47,321.58 526.73,324.00 527.90,324.50 C529.07,325.00 530.43,324.58 531.40,323.90 C532.37,323.22 532.73,320.60 533.70,320.40 C534.67,320.20 536.13,322.02 537.20,322.70 C538.27,323.38 539.42,325.18 540.10,324.50 C540.78,323.82 540.70,320.27 541.30,318.60 C541.90,316.93 542.72,315.08 543.70,314.50 C544.68,313.92 546.13,314.52 547.20,315.10 C548.27,315.68 549.13,316.93 550.10,318.00 C551.07,319.07 552.18,320.00 553.00,321.50 C553.82,323.00 554.20,326.65 555.00,327.00 C555.80,327.35 556.88,324.87 557.80,323.60 C558.72,322.33 559.58,321.25 560.50,319.40 C561.42,317.55 562.15,314.33 563.30,312.50 C564.45,310.67 565.78,309.67 567.40,308.40 C569.02,307.13 571.38,305.13 573.00,304.90 C574.62,304.67 575.72,306.32 577.10,307.00 C578.48,307.68 579.92,308.55 581.30,309.00 C582.68,309.45 584.02,309.80 585.40,309.70 C586.78,309.60 588.10,308.85 589.60,308.40 C591.10,307.95 593.13,306.78 594.40,307.00 C595.67,307.22 596.38,308.78 597.20,309.70 C598.02,310.62 598.50,311.33 599.30,312.50 C600.10,313.67 601.20,315.20 602.00,316.70 C602.80,318.20 603.28,319.78 604.10,321.50 C604.92,323.22 606.20,325.73 606.90,327.00 C607.60,328.27 607.62,328.98 608.30,329.10 C608.98,329.22 610.20,328.17 611.00,327.70 C611.80,327.23 612.17,326.65 613.10,326.30 C614.03,325.95 615.45,325.60 616.60,325.60 C617.75,325.60 618.80,326.72 620.00,326.30 C621.20,325.88 622.45,323.32 623.80,323.10 C625.15,322.88 626.55,324.78 628.10,325.00 C629.65,325.22 631.53,324.40 633.10,324.40 C634.67,324.40 636.03,324.80 637.50,325.00 C638.97,325.20 640.55,324.97 641.90,325.60 C643.25,326.23 644.35,328.68 645.60,328.80 C646.85,328.92 648.15,327.03 649.40,326.30 C650.65,325.57 651.75,324.62 653.10,324.40 C654.45,324.18 656.03,324.80 657.50,325.00 C658.97,325.20 660.43,325.38 661.90,325.60 C663.37,325.82 665.05,326.30 666.30,326.30 C667.55,326.30 668.47,326.33 669.40,325.60 C670.33,324.87 670.87,322.62 671.90,321.90 C672.93,321.18 674.57,320.78 675.60,321.30 C676.63,321.82 677.15,323.75 678.10,325.00 C679.05,326.25 680.23,328.38 681.30,328.80 C682.37,329.22 683.97,327.72 684.50,327.50" stroke="#00f" stroke-width="2" stroke-dasharray="2 3" fill="none" stroke-linejoin="round"/></g><path clip-path="url(#cdo2_0)" d="M405.00,325.00 C405.20,324.63 405.62,322.40 406.20,322.80 C406.78,323.20 407.73,327.12 408.50,327.40 C409.27,327.68 409.83,325.08 410.80,324.50 C411.77,323.92 413.22,323.32 414.30,323.90 C415.38,324.48 416.32,327.90 417.30,328.00 C418.28,328.10 419.13,325.37 420.20,324.50 C421.27,323.63 422.63,322.40 423.70,322.80 C424.77,323.20 425.73,326.03 426.60,326.90 C427.47,327.77 428.22,328.50 428.90,328.00 C429.58,327.50 429.92,325.07 430.70,323.90 C431.48,322.73 432.73,320.90 433.60,321.00 C434.47,321.10 435.02,323.23 435.90,324.50 C436.78,325.77 438.02,328.50 438.90,328.60 C439.78,328.70 440.23,325.97 441.20,325.10 C442.17,324.23 443.43,323.10 444.70,323.40 C445.97,323.70 447.43,326.90 448.80,326.90 C450.17,326.90 451.63,323.80 452.90,323.40 C454.17,323.00 455.23,324.02 456.40,324.50 C457.57,324.98 458.63,326.78 459.90,326.30 C461.17,325.82 462.83,321.60 464.00,321.60 C465.17,321.60 466.03,325.13 466.90,326.30 C467.77,327.47 468.32,328.60 469.20,328.60 C470.08,328.60 471.22,327.08 472.20,326.30 C473.18,325.52 474.13,324.10 475.10,323.90 C476.07,323.70 476.80,324.92 478.00,325.10 C479.20,325.28 481.00,324.52 482.30,325.00 C483.60,325.48 484.63,327.50 485.80,328.00 C486.97,328.50 487.93,328.40 489.30,328.00 C490.67,327.60 492.73,325.32 494.00,325.60 C495.27,325.88 496.12,330.18 496.90,329.70 C497.68,329.22 498.12,324.55 498.70,322.70 C499.28,320.85 499.82,319.77 500.40,318.60 C500.98,317.43 501.32,315.90 502.20,315.70 C503.08,315.50 504.33,316.82 505.70,317.40 C507.07,317.98 509.03,318.52 510.40,319.20 C511.77,319.88 512.73,320.92 513.90,321.50 C515.07,322.08 516.13,322.88 517.40,322.70 C518.67,322.52 520.33,320.70 521.50,320.40 C522.67,320.10 523.33,320.22 524.40,320.90 C525.47,321.58 526.73,324.00 527.90,324.50 C529.07,325.00 530.43,324.58 531.40,323.90 C532.37,323.22 532.73,320.60 533.70,320.40 C534.67,320.20 536.13,322.02 537.20,322.70 C538.27,323.38 539.42,325.18 540.10,324.50 C540.78,323.82 540.70,320.27 541.30,318.60 C541.90,316.93 542.72,315.08 543.70,314.50 C544.68,313.92 546.13,314.52 547.20,315.10 C548.27,315.68 549.13,316.93 550.10,318.00 C551.07,319.07 552.18,320.00 553.00,321.50 C553.82,323.00 554.20,326.65 555.00,327.00 C555.80,327.35 556.88,324.87 557.80,323.60 C558.72,322.33 559.58,321.25 560.50,319.40 C561.42,317.55 562.15,314.33 563.30,312.50 C564.45,310.67 565.78,309.67 567.40,308.40 C569.02,307.13 571.38,305.13 573.00,304.90 C574.62,304.67 575.72,306.32 577.10,307.00 C578.48,307.68 579.92,308.55 581.30,309.00 C582.68,309.45 584.02,309.80 585.40,309.70 C586.78,309.60 588.10,308.85 589.60,308.40 C591.10,307.95 593.13,306.78 594.40,307.00 C595.67,307.22 596.38,308.78 597.20,309.70 C598.02,310.62 598.50,311.33 599.30,312.50 C600.10,313.67 601.20,315.20 602.00,316.70 C602.80,318.20 603.28,319.78 604.10,321.50 C604.92,323.22 606.20,325.73 606.90,327.00 C607.60,328.27 607.62,328.98 608.30,329.10 C608.98,329.22 610.20,328.17 611.00,327.70 C611.80,327.23 612.17,326.65 613.10,326.30 C614.03,325.95 615.45,325.60 616.60,325.60 C617.75,325.60 618.80,326.72 620.00,326.30 C621.20,325.88 622.45,323.32 623.80,323.10 C625.15,322.88 626.55,324.78 628.10,325.00 C629.65,325.22 631.53,324.40 633.10,324.40 C634.67,324.40 636.03,324.80 637.50,325.00 C638.97,325.20 640.55,324.97 641.90,325.60 C643.25,326.23 644.35,328.68 645.60,328.80 C646.85,328.92 648.15,327.03 649.40,326.30 C650.65,325.57 651.75,324.62 653.10,324.40 C654.45,324.18 656.03,324.80 657.50,325.00 C658.97,325.20 660.43,325.38 661.90,325.60 C663.37,325.82 665.05,326.30 666.30,326.30 C667.55,326.30 668.47,326.33 669.40,325.60 C670.33,324.87 670.87,322.62 671.90,321.90 C672.93,321.18 674.57,320.78 675.60,321.30 C676.63,321.82 677.15,323.75 678.10,325.00 C679.05,326.25 680.23,328.38 681.30,328.80 C682.37,329.22 683.97,327.72 684.50,327.50" stroke="#00f" stroke-width="1.6" fill="none" stroke-linejoin="round"/><path clip-path="url(#cdo2_1)" d="M405.00,325.00 C405.20,324.63 405.62,322.40 406.20,322.80 C406.78,323.20 407.73,327.12 408.50,327.40 C409.27,327.68 409.83,325.08 410.80,324.50 C411.77,323.92 413.22,323.32 414.30,323.90 C415.38,324.48 416.32,327.90 417.30,328.00 C418.28,328.10 419.13,325.37 420.20,324.50 C421.27,323.63 422.63,322.40 423.70,322.80 C424.77,323.20 425.73,326.03 426.60,326.90 C427.47,327.77 428.22,328.50 428.90,328.00 C429.58,327.50 429.92,325.07 430.70,323.90 C431.48,322.73 432.73,320.90 433.60,321.00 C434.47,321.10 435.02,323.23 435.90,324.50 C436.78,325.77 438.02,328.50 438.90,328.60 C439.78,328.70 440.23,325.97 441.20,325.10 C442.17,324.23 443.43,323.10 444.70,323.40 C445.97,323.70 447.43,326.90 448.80,326.90 C450.17,326.90 451.63,323.80 452.90,323.40 C454.17,323.00 455.23,324.02 456.40,324.50 C457.57,324.98 458.63,326.78 459.90,326.30 C461.17,325.82 462.83,321.60 464.00,321.60 C465.17,321.60 466.03,325.13 466.90,326.30 C467.77,327.47 468.32,328.60 469.20,328.60 C470.08,328.60 471.22,327.08 472.20,326.30 C473.18,325.52 474.13,324.10 475.10,323.90 C476.07,323.70 476.80,324.92 478.00,325.10 C479.20,325.28 481.00,324.52 482.30,325.00 C483.60,325.48 484.63,327.50 485.80,328.00 C486.97,328.50 487.93,328.40 489.30,328.00 C490.67,327.60 492.73,325.32 494.00,325.60 C495.27,325.88 496.12,330.18 496.90,329.70 C497.68,329.22 498.12,324.55 498.70,322.70 C499.28,320.85 499.82,319.77 500.40,318.60 C500.98,317.43 501.32,315.90 502.20,315.70 C503.08,315.50 504.33,316.82 505.70,317.40 C507.07,317.98 509.03,318.52 510.40,319.20 C511.77,319.88 512.73,320.92 513.90,321.50 C515.07,322.08 516.13,322.88 517.40,322.70 C518.67,322.52 520.33,320.70 521.50,320.40 C522.67,320.10 523.33,320.22 524.40,320.90 C525.47,321.58 526.73,324.00 527.90,324.50 C529.07,325.00 530.43,324.58 531.40,323.90 C532.37,323.22 532.73,320.60 533.70,320.40 C534.67,320.20 536.13,322.02 537.20,322.70 C538.27,323.38 539.42,325.18 540.10,324.50 C540.78,323.82 540.70,320.27 541.30,318.60 C541.90,316.93 542.72,315.08 543.70,314.50 C544.68,313.92 546.13,314.52 547.20,315.10 C548.27,315.68 549.13,316.93 550.10,318.00 C551.07,319.07 552.18,320.00 553.00,321.50 C553.82,323.00 554.20,326.65 555.00,327.00 C555.80,327.35 556.88,324.87 557.80,323.60 C558.72,322.33 559.58,321.25 560.50,319.40 C561.42,317.55 562.15,314.33 563.30,312.50 C564.45,310.67 565.78,309.67 567.40,308.40 C569.02,307.13 571.38,305.13 573.00,304.90 C574.62,304.67 575.72,306.32 577.10,307.00 C578.48,307.68 579.92,308.55 581.30,309.00 C582.68,309.45 584.02,309.80 585.40,309.70 C586.78,309.60 588.10,308.85 589.60,308.40 C591.10,307.95 593.13,306.78 594.40,307.00 C595.67,307.22 596.38,308.78 597.20,309.70 C598.02,310.62 598.50,311.33 599.30,312.50 C600.10,313.67 601.20,315.20 602.00,316.70 C602.80,318.20 603.28,319.78 604.10,321.50 C604.92,323.22 606.20,325.73 606.90,327.00 C607.60,328.27 607.62,328.98 608.30,329.10 C608.98,329.22 610.20,328.17 611.00,327.70 C611.80,327.23 612.17,326.65 613.10,326.30 C614.03,325.95 615.45,325.60 616.60,325.60 C617.75,325.60 618.80,326.72 620.00,326.30 C621.20,325.88 622.45,323.32 623.80,323.10 C625.15,322.88 626.55,324.78 628.10,325.00 C629.65,325.22 631.53,324.40 633.10,324.40 C634.67,324.40 636.03,324.80 637.50,325.00 C638.97,325.20 640.55,324.97 641.90,325.60 C643.25,326.23 644.35,328.68 645.60,328.80 C646.85,328.92 648.15,327.03 649.40,326.30 C650.65,325.57 651.75,324.62 653.10,324.40 C654.45,324.18 656.03,324.80 657.50,325.00 C658.97,325.20 660.43,325.38 661.90,325.60 C663.37,325.82 665.05,326.30 666.30,326.30 C667.55,326.30 668.47,326.33 669.40,325.60 C670.33,324.87 670.87,322.62 671.90,321.90 C672.93,321.18 674.57,320.78 675.60,321.30 C676.63,321.82 677.15,323.75 678.10,325.00 C679.05,326.25 680.23,328.38 681.30,328.80 C682.37,329.22 683.97,327.72 684.50,327.50" stroke="#00f" stroke-width="1.6" fill="none" stroke-linejoin="round"/><path clip-path="url(#cdo2_2)" d="M405.00,325.00 C405.20,324.63 405.62,322.40 406.20,322.80 C406.78,323.20 407.73,327.12 408.50,327.40 C409.27,327.68 409.83,325.08 410.80,324.50 C411.77,323.92 413.22,323.32 414.30,323.90 C415.38,324.48 416.32,327.90 417.30,328.00 C418.28,328.10 419.13,325.37 420.20,324.50 C421.27,323.63 422.63,322.40 423.70,322.80 C424.77,323.20 425.73,326.03 426.60,326.90 C427.47,327.77 428.22,328.50 428.90,328.00 C429.58,327.50 429.92,325.07 430.70,323.90 C431.48,322.73 432.73,320.90 433.60,321.00 C434.47,321.10 435.02,323.23 435.90,324.50 C436.78,325.77 438.02,328.50 438.90,328.60 C439.78,328.70 440.23,325.97 441.20,325.10 C442.17,324.23 443.43,323.10 444.70,323.40 C445.97,323.70 447.43,326.90 448.80,326.90 C450.17,326.90 451.63,323.80 452.90,323.40 C454.17,323.00 455.23,324.02 456.40,324.50 C457.57,324.98 458.63,326.78 459.90,326.30 C461.17,325.82 462.83,321.60 464.00,321.60 C465.17,321.60 466.03,325.13 466.90,326.30 C467.77,327.47 468.32,328.60 469.20,328.60 C470.08,328.60 471.22,327.08 472.20,326.30 C473.18,325.52 474.13,324.10 475.10,323.90 C476.07,323.70 476.80,324.92 478.00,325.10 C479.20,325.28 481.00,324.52 482.30,325.00 C483.60,325.48 484.63,327.50 485.80,328.00 C486.97,328.50 487.93,328.40 489.30,328.00 C490.67,327.60 492.73,325.32 494.00,325.60 C495.27,325.88 496.12,330.18 496.90,329.70 C497.68,329.22 498.12,324.55 498.70,322.70 C499.28,320.85 499.82,319.77 500.40,318.60 C500.98,317.43 501.32,315.90 502.20,315.70 C503.08,315.50 504.33,316.82 505.70,317.40 C507.07,317.98 509.03,318.52 510.40,319.20 C511.77,319.88 512.73,320.92 513.90,321.50 C515.07,322.08 516.13,322.88 517.40,322.70 C518.67,322.52 520.33,320.70 521.50,320.40 C522.67,320.10 523.33,320.22 524.40,320.90 C525.47,321.58 526.73,324.00 527.90,324.50 C529.07,325.00 530.43,324.58 531.40,323.90 C532.37,323.22 532.73,320.60 533.70,320.40 C534.67,320.20 536.13,322.02 537.20,322.70 C538.27,323.38 539.42,325.18 540.10,324.50 C540.78,323.82 540.70,320.27 541.30,318.60 C541.90,316.93 542.72,315.08 543.70,314.50 C544.68,313.92 546.13,314.52 547.20,315.10 C548.27,315.68 549.13,316.93 550.10,318.00 C551.07,319.07 552.18,320.00 553.00,321.50 C553.82,323.00 554.20,326.65 555.00,327.00 C555.80,327.35 556.88,324.87 557.80,323.60 C558.72,322.33 559.58,321.25 560.50,319.40 C561.42,317.55 562.15,314.33 563.30,312.50 C564.45,310.67 565.78,309.67 567.40,308.40 C569.02,307.13 571.38,305.13 573.00,304.90 C574.62,304.67 575.72,306.32 577.10,307.00 C578.48,307.68 579.92,308.55 581.30,309.00 C582.68,309.45 584.02,309.80 585.40,309.70 C586.78,309.60 588.10,308.85 589.60,308.40 C591.10,307.95 593.13,306.78 594.40,307.00 C595.67,307.22 596.38,308.78 597.20,309.70 C598.02,310.62 598.50,311.33 599.30,312.50 C600.10,313.67 601.20,315.20 602.00,316.70 C602.80,318.20 603.28,319.78 604.10,321.50 C604.92,323.22 606.20,325.73 606.90,327.00 C607.60,328.27 607.62,328.98 608.30,329.10 C608.98,329.22 610.20,328.17 611.00,327.70 C611.80,327.23 612.17,326.65 613.10,326.30 C614.03,325.95 615.45,325.60 616.60,325.60 C617.75,325.60 618.80,326.72 620.00,326.30 C621.20,325.88 622.45,323.32 623.80,323.10 C625.15,322.88 626.55,324.78 628.10,325.00 C629.65,325.22 631.53,324.40 633.10,324.40 C634.67,324.40 636.03,324.80 637.50,325.00 C638.97,325.20 640.55,324.97 641.90,325.60 C643.25,326.23 644.35,328.68 645.60,328.80 C646.85,328.92 648.15,327.03 649.40,326.30 C650.65,325.57 651.75,324.62 653.10,324.40 C654.45,324.18 656.03,324.80 657.50,325.00 C658.97,325.20 660.43,325.38 661.90,325.60 C663.37,325.82 665.05,326.30 666.30,326.30 C667.55,326.30 668.47,326.33 669.40,325.60 C670.33,324.87 670.87,322.62 671.90,321.90 C672.93,321.18 674.57,320.78 675.60,321.30 C676.63,321.82 677.15,323.75 678.10,325.00 C679.05,326.25 680.23,328.38 681.30,328.80 C682.37,329.22 683.97,327.72 684.50,327.50" stroke="#00f" stroke-width="1.6" fill="none" stroke-linejoin="round"/></g><g stroke-width="1" fill="none"><line x1="46.50" y1="133.5" x2="46.50" y2="130.3" stroke="#5e5e5e"/><line x1="46.50" y1="0.5" x2="46.50" y2="3.7" stroke="#5e5e5e"/><line x1="97.41" y1="133.5" x2="97.41" y2="130.3" stroke="#5e5e5e"/><line x1="97.41" y1="0.5" x2="97.41" y2="3.7" stroke="#5e5e5e"/><line x1="148.32" y1="133.5" x2="148.32" y2="130.3" stroke="#5e5e5e"/><line x1="148.32" y1="0.5" x2="148.32" y2="3.7" stroke="#5e5e5e"/><line x1="199.23" y1="133.5" x2="199.23" y2="130.3" stroke="#5e5e5e"/><line x1="199.23" y1="0.5" x2="199.23" y2="3.7" stroke="#5e5e5e"/><line x1="250.14" y1="133.5" x2="250.14" y2="130.3" stroke="#5e5e5e"/><line x1="250.14" y1="0.5" x2="250.14" y2="3.7" stroke="#5e5e5e"/><line x1="301.05" y1="133.5" x2="301.05" y2="130.3" stroke="#5e5e5e"/><line x1="301.05" y1="0.5" x2="301.05" y2="3.7" stroke="#5e5e5e"/><line x1="46.5" y1="133.50" x2="49.7" y2="133.50" stroke="#5e5e5e"/><line x1="326.5" y1="133.50" x2="323.3" y2="133.50" stroke="#5e5e5e"/><line x1="46.5" y1="95.50" x2="49.7" y2="95.50" stroke="#5e5e5e"/><line x1="326.5" y1="95.50" x2="323.3" y2="95.50" stroke="#5e5e5e"/><line x1="46.5" y1="57.50" x2="49.7" y2="57.50" stroke="#5e5e5e"/><line x1="326.5" y1="57.50" x2="323.3" y2="57.50" stroke="#5e5e5e"/><line x1="46.5" y1="19.50" x2="49.7" y2="19.50" stroke="#5e5e5e"/><line x1="326.5" y1="19.50" x2="323.3" y2="19.50" stroke="#5e5e5e"/><line x1="46.0" y1="0.5" x2="327.0" y2="0.5" stroke="#585858"/><line x1="46.0" y1="133.5" x2="327.0" y2="133.5" stroke="#8e8e8e" stroke-width="1.2"/><line x1="46.5" y1="0.5" x2="46.5" y2="133.5" stroke="#6c6c6c"/><line x1="326.5" y1="0.5" x2="326.5" y2="133.5" stroke="#6c6c6c"/></g><g stroke-width="1" fill="none"><line x1="405.50" y1="133.5" x2="405.50" y2="130.3" stroke="#5e5e5e"/><line x1="405.50" y1="0.5" x2="405.50" y2="3.7" stroke="#5e5e5e"/><line x1="456.23" y1="133.5" x2="456.23" y2="130.3" stroke="#5e5e5e"/><line x1="456.23" y1="0.5" x2="456.23" y2="3.7" stroke="#5e5e5e"/><line x1="506.95" y1="133.5" x2="506.95" y2="130.3" stroke="#5e5e5e"/><line x1="506.95" y1="0.5" x2="506.95" y2="3.7" stroke="#5e5e5e"/><line x1="557.68" y1="133.5" x2="557.68" y2="130.3" stroke="#5e5e5e"/><line x1="557.68" y1="0.5" x2="557.68" y2="3.7" stroke="#5e5e5e"/><line x1="608.41" y1="133.5" x2="608.41" y2="130.3" stroke="#5e5e5e"/><line x1="608.41" y1="0.5" x2="608.41" y2="3.7" stroke="#5e5e5e"/><line x1="659.14" y1="133.5" x2="659.14" y2="130.3" stroke="#5e5e5e"/><line x1="659.14" y1="0.5" x2="659.14" y2="3.7" stroke="#5e5e5e"/><line x1="405.5" y1="133.50" x2="408.7" y2="133.50" stroke="#5e5e5e"/><line x1="684.5" y1="133.50" x2="681.3" y2="133.50" stroke="#5e5e5e"/><line x1="405.5" y1="80.30" x2="408.7" y2="80.30" stroke="#5e5e5e"/><line x1="684.5" y1="80.30" x2="681.3" y2="80.30" stroke="#5e5e5e"/><line x1="405.5" y1="27.10" x2="408.7" y2="27.10" stroke="#5e5e5e"/><line x1="684.5" y1="27.10" x2="681.3" y2="27.10" stroke="#5e5e5e"/><line x1="405.0" y1="0.5" x2="685.0" y2="0.5" stroke="#585858"/><line x1="405.0" y1="133.5" x2="685.0" y2="133.5" stroke="#8e8e8e" stroke-width="1.2"/><line x1="405.5" y1="0.5" x2="405.5" y2="133.5" stroke="#6c6c6c"/><line x1="684.5" y1="0.5" x2="684.5" y2="133.5" stroke="#6c6c6c"/></g><g stroke-width="1" fill="none"><line x1="46.50" y1="330.1" x2="46.50" y2="326.90000000000003" stroke="#5e5e5e"/><line x1="46.50" y1="196.6" x2="46.50" y2="199.79999999999998" stroke="#5e5e5e"/><line x1="98.35" y1="330.1" x2="98.35" y2="326.90000000000003" stroke="#5e5e5e"/><line x1="98.35" y1="196.6" x2="98.35" y2="199.79999999999998" stroke="#5e5e5e"/><line x1="150.20" y1="330.1" x2="150.20" y2="326.90000000000003" stroke="#5e5e5e"/><line x1="150.20" y1="196.6" x2="150.20" y2="199.79999999999998" stroke="#5e5e5e"/><line x1="202.06" y1="330.1" x2="202.06" y2="326.90000000000003" stroke="#5e5e5e"/><line x1="202.06" y1="196.6" x2="202.06" y2="199.79999999999998" stroke="#5e5e5e"/><line x1="253.91" y1="330.1" x2="253.91" y2="326.90000000000003" stroke="#5e5e5e"/><line x1="253.91" y1="196.6" x2="253.91" y2="199.79999999999998" stroke="#5e5e5e"/><line x1="305.76" y1="330.1" x2="305.76" y2="326.90000000000003" stroke="#5e5e5e"/><line x1="305.76" y1="196.6" x2="305.76" y2="199.79999999999998" stroke="#5e5e5e"/><line x1="46.5" y1="330.10" x2="49.7" y2="330.10" stroke="#5e5e5e"/><line x1="326.5" y1="330.10" x2="323.3" y2="330.10" stroke="#5e5e5e"/><line x1="46.5" y1="263.35" x2="49.7" y2="263.35" stroke="#5e5e5e"/><line x1="326.5" y1="263.35" x2="323.3" y2="263.35" stroke="#5e5e5e"/><line x1="46.5" y1="196.60" x2="49.7" y2="196.60" stroke="#5e5e5e"/><line x1="326.5" y1="196.60" x2="323.3" y2="196.60" stroke="#5e5e5e"/><line x1="46.0" y1="196.6" x2="327.0" y2="196.6" stroke="#8e8e8e"/><line x1="46.0" y1="330.1" x2="327.0" y2="330.1" stroke="#8e8e8e" stroke-width="1.2"/><line x1="46.5" y1="196.6" x2="46.5" y2="330.1" stroke="#6c6c6c"/><line x1="326.5" y1="196.6" x2="326.5" y2="330.1" stroke="#6c6c6c"/></g><g stroke-width="1" fill="none"><line x1="405.50" y1="330.1" x2="405.50" y2="326.90000000000003" stroke="#5e5e5e"/><line x1="405.50" y1="196.6" x2="405.50" y2="199.79999999999998" stroke="#5e5e5e"/><line x1="457.65" y1="330.1" x2="457.65" y2="326.90000000000003" stroke="#5e5e5e"/><line x1="457.65" y1="196.6" x2="457.65" y2="199.79999999999998" stroke="#5e5e5e"/><line x1="509.80" y1="330.1" x2="509.80" y2="326.90000000000003" stroke="#5e5e5e"/><line x1="509.80" y1="196.6" x2="509.80" y2="199.79999999999998" stroke="#5e5e5e"/><line x1="561.95" y1="330.1" x2="561.95" y2="326.90000000000003" stroke="#5e5e5e"/><line x1="561.95" y1="196.6" x2="561.95" y2="199.79999999999998" stroke="#5e5e5e"/><line x1="614.10" y1="330.1" x2="614.10" y2="326.90000000000003" stroke="#5e5e5e"/><line x1="614.10" y1="196.6" x2="614.10" y2="199.79999999999998" stroke="#5e5e5e"/><line x1="666.25" y1="330.1" x2="666.25" y2="326.90000000000003" stroke="#5e5e5e"/><line x1="666.25" y1="196.6" x2="666.25" y2="199.79999999999998" stroke="#5e5e5e"/><line x1="405.5" y1="330.10" x2="408.7" y2="330.10" stroke="#5e5e5e"/><line x1="684.5" y1="330.10" x2="681.3" y2="330.10" stroke="#5e5e5e"/><line x1="405.5" y1="285.60" x2="408.7" y2="285.60" stroke="#5e5e5e"/><line x1="684.5" y1="285.60" x2="681.3" y2="285.60" stroke="#5e5e5e"/><line x1="405.5" y1="241.10" x2="408.7" y2="241.10" stroke="#5e5e5e"/><line x1="684.5" y1="241.10" x2="681.3" y2="241.10" stroke="#5e5e5e"/><line x1="405.5" y1="196.60" x2="408.7" y2="196.60" stroke="#5e5e5e"/><line x1="684.5" y1="196.60" x2="681.3" y2="196.60" stroke="#5e5e5e"/><line x1="405.0" y1="196.6" x2="685.0" y2="196.6" stroke="#8e8e8e"/><line x1="405.0" y1="330.1" x2="685.0" y2="330.1" stroke="#8e8e8e" stroke-width="1.2"/><line x1="405.5" y1="196.6" x2="405.5" y2="330.1" stroke="#6c6c6c"/><line x1="684.5" y1="196.6" x2="684.5" y2="330.1" stroke="#6c6c6c"/></g><g font-family="Liberation Serif" font-size="17" fill="#000"><text x="46.50" y="153.80" text-anchor="middle">0</text><text x="97.41" y="153.80" text-anchor="middle">1</text><text x="148.32" y="153.80" text-anchor="middle">2</text><text x="199.23" y="153.80" text-anchor="middle">3</text><text x="250.14" y="153.80" text-anchor="middle">4</text><text x="301.05" y="153.80" text-anchor="middle">5</text><text x="42.20" y="140.30" text-anchor="end">-4</text><text x="42.20" y="102.30" text-anchor="end">-2</text><text x="42.20" y="64.30" text-anchor="end">0</text><text x="42.20" y="26.30" text-anchor="end">2</text></g><g font-family="Liberation Serif" font-weight="bold" font-size="16.8" fill="#000"><text x="188.00" y="174.10" text-anchor="middle">(a) Time (s)</text><text transform="translate(19.9,65.80) rotate(-90)" text-anchor="middle">X (m)</text></g><g font-family="Liberation Serif" font-size="17" fill="#000"><text x="405.50" y="153.80" text-anchor="middle">0</text><text x="456.23" y="153.80" text-anchor="middle">1</text><text x="506.95" y="153.80" text-anchor="middle">2</text><text x="557.68" y="153.80" text-anchor="middle">3</text><text x="608.41" y="153.80" text-anchor="middle">4</text><text x="659.14" y="153.80" text-anchor="middle">5</text><text x="401.20" y="140.30" text-anchor="end">-0.5</text><text x="401.20" y="87.10" text-anchor="end">0</text><text x="401.20" y="33.90" text-anchor="end">0.5</text></g><g font-family="Liberation Serif" font-weight="bold" font-size="16.8" fill="#000"><text x="547.20" y="174.10" text-anchor="middle">(b) Time (s)</text><text transform="translate(367.5,66.10) rotate(-90)" text-anchor="middle">Y (m)</text></g><g font-family="Liberation Serif" font-size="17" fill="#000"><text x="46.50" y="350.40" text-anchor="middle">0</text><text x="98.35" y="350.40" text-anchor="middle">1</text><text x="150.20" y="350.40" text-anchor="middle">2</text><text x="202.06" y="350.40" text-anchor="middle">3</text><text x="253.91" y="350.40" text-anchor="middle">4</text><text x="305.76" y="350.40" text-anchor="middle">5</text><text x="42.20" y="336.90" text-anchor="end">0</text><text x="42.20" y="270.15" text-anchor="end">0.5</text><text x="42.20" y="203.40" text-anchor="end">1</text></g><g font-family="Liberation Serif" font-weight="bold" font-size="16.8" fill="#000"><text x="187.50" y="370.70" text-anchor="middle">(c) Time (s)</text><text transform="translate(14.5,261.75) rotate(-90)" text-anchor="middle">Z (m)</text></g><g font-family="Liberation Serif" font-size="17" fill="#000"><text x="405.50" y="350.40" text-anchor="middle">0</text><text x="457.65" y="350.40" text-anchor="middle">1</text><text x="509.80" y="350.40" text-anchor="middle">2</text><text x="561.95" y="350.40" text-anchor="middle">3</text><text x="614.10" y="350.40" text-anchor="middle">4</text><text x="666.25" y="350.40" text-anchor="middle">5</text><text x="401.20" y="336.90" text-anchor="end">0</text><text x="401.20" y="292.40" text-anchor="end">0.5</text><text x="401.20" y="247.90" text-anchor="end">1</text><text x="401.20" y="203.40" text-anchor="end">1.5</text></g><g font-family="Liberation Serif" font-weight="bold" font-size="16.8" fill="#000"><text x="547.20" y="370.70" text-anchor="middle">(d) Time (s)</text><text transform="translate(374.6,261.15) rotate(-90)" text-anchor="middle">Consensus errors</text></g><line x1="51.6" y1="101.3" x2="83.2" y2="101.3" stroke="#000" stroke-width="2" fill="none"/><line x1="152.3" y1="101.3" x2="183.9" y2="101.3" stroke="#f00" stroke-width="2" stroke-dasharray="12.6 7.4" fill="none"/><line x1="51.6" y1="121.9" x2="83.2" y2="121.9" stroke="#0f0" stroke-width="2" stroke-dasharray="10 3.6 2.8 3.6" fill="none"/><line x1="152.3" y1="121.9" x2="183.9" y2="121.9" stroke="#00f" stroke-width="2" stroke-dasharray="2 3" fill="none"/><g font-family="Liberation Serif" fill="#000"><text x="88.10" y="105.30" font-size="18" font-style="italic">x</text><text x="97.20" y="107.90" font-size="12.5">0</text><text x="189.20" y="105.30" font-size="18" font-style="italic">x</text><text x="198.00" y="107.90" font-size="12.5">1</text><path d="M210.00,101.15h11M215.50,95.70v10.9" stroke="#222" stroke-width="1.05" fill="none"/><text x="225.70" y="105.30" font-size="16" font-style="italic">δ</text><text x="233.90" y="100.90" font-size="12.5">1</text><text x="233.20" y="109.30" font-size="12.5" font-style="italic">x</text><text x="88.10" y="125.90" font-size="18" font-style="italic">x</text><text x="97.20" y="128.50" font-size="12.5">2</text><path d="M108.90,121.75h11M114.40,116.30v10.9" stroke="#222" stroke-width="1.05" fill="none"/><text x="124.60" y="125.90" font-size="16" font-style="italic">δ</text><text x="133.10" y="121.50" font-size="12.5">2</text><text x="132.10" y="129.90" font-size="12.5" font-style="italic">x</text><text x="189.20" y="125.90" font-size="18" font-style="italic">x</text><text x="198.30" y="128.50" font-size="12.5">3</text><path d="M210.00,121.75h11M215.50,116.30v10.9" stroke="#222" stroke-width="1.05" fill="none"/><text x="225.70" y="125.90" font-size="16" font-style="italic">δ</text><text x="234.20" y="121.50" font-size="12.5">3</text><text x="233.20" y="129.90" font-size="12.5" font-style="italic">x</text></g><line x1="473.7" y1="18.0" x2="505.3" y2="18.0" stroke="#000" stroke-width="2" fill="none"/><line x1="572.5" y1="18.0" x2="604.1" y2="18.0" stroke="#f00" stroke-width="2" stroke-dasharray="12.6 7.4" fill="none"/><line x1="473.7" y1="39.6" x2="505.3" y2="39.6" stroke="#0f0" stroke-width="2" stroke-dasharray="10 3.6 2.8 3.6" fill="none"/><line x1="572.5" y1="39.6" x2="604.1" y2="39.6" stroke="#00f" stroke-width="2" stroke-dasharray="2 3" fill="none"/><g font-family="Liberation Serif" fill="#000"><text x="511.40" y="22.00" font-size="18" font-style="italic">y</text><text x="518.30" y="24.60" font-size="12.5">0</text><text x="609.60" y="22.00" font-size="18" font-style="italic">y</text><text x="616.20" y="24.60" font-size="12.5">1</text><path d="M627.80,17.85h11M633.30,12.40v10.9" stroke="#222" stroke-width="1.05" fill="none"/><text x="643.90" y="22.00" font-size="16" font-style="italic">δ</text><text x="651.40" y="17.60" font-size="12.5">1</text><text x="651.80" y="26.00" font-size="12.5" font-style="italic">y</text><text x="511.40" y="43.60" font-size="18" font-style="italic">y</text><text x="518.30" y="46.20" font-size="12.5">2</text><path d="M529.60,39.45h11M535.10,34.00v10.9" stroke="#222" stroke-width="1.05" fill="none"/><text x="545.70" y="43.60" font-size="16" font-style="italic">δ</text><text x="553.50" y="39.20" font-size="12.5">2</text><text x="553.60" y="47.60" font-size="12.5" font-style="italic">y</text><text x="609.60" y="43.60" font-size="18" font-style="italic">y</text><text x="616.50" y="46.20" font-size="12.5">3</text><path d="M627.80,39.45h11M633.30,34.00v10.9" stroke="#222" stroke-width="1.05" fill="none"/><text x="643.90" y="43.60" font-size="16" font-style="italic">δ</text><text x="651.70" y="39.20" font-size="12.5">3</text><text x="651.80" y="47.60" font-size="12.5" font-style="italic">y</text></g><line x1="54.0" y1="214.8" x2="85.6" y2="214.8" stroke="#000" stroke-width="2" fill="none"/><line x1="153.0" y1="214.8" x2="184.6" y2="214.8" stroke="#f00" stroke-width="2" stroke-dasharray="12.6 7.4" fill="none"/><line x1="54.0" y1="235.3" x2="85.6" y2="235.3" stroke="#0f0" stroke-width="2" stroke-dasharray="10 3.6 2.8 3.6" fill="none"/><line x1="153.0" y1="235.3" x2="184.6" y2="235.3" stroke="#00f" stroke-width="2" stroke-dasharray="2 3" fill="none"/><g font-family="Liberation Serif" fill="#000"><text x="90.90" y="218.80" font-size="18" font-style="italic">z</text><text x="98.40" y="221.40" font-size="12.5">0</text><text x="190.20" y="218.80" font-size="18" font-style="italic">z</text><text x="197.40" y="221.40" font-size="12.5">1</text><path d="M208.40,214.65h11M213.90,209.20v10.9" stroke="#222" stroke-width="1.05" fill="none"/><text x="224.30" y="218.80" font-size="16" font-style="italic">δ</text><text x="232.50" y="214.40" font-size="12.5">1</text><text x="232.10" y="222.80" font-size="12.5" font-style="italic">z</text><text x="90.90" y="239.30" font-size="18" font-style="italic">z</text><text x="98.40" y="241.90" font-size="12.5">2</text><path d="M109.10,235.15h11M114.60,229.70v10.9" stroke="#222" stroke-width="1.05" fill="none"/><text x="125.00" y="239.30" font-size="16" font-style="italic">δ</text><text x="133.50" y="234.90" font-size="12.5">2</text><text x="132.80" y="243.30" font-size="12.5" font-style="italic">z</text><text x="190.20" y="239.30" font-size="18" font-style="italic">z</text><text x="197.70" y="241.90" font-size="12.5">3</text><path d="M208.40,235.15h11M213.90,229.70v10.9" stroke="#222" stroke-width="1.05" fill="none"/><text x="224.30" y="239.30" font-size="16" font-style="italic">δ</text><text x="232.80" y="234.90" font-size="12.5">3</text><text x="232.10" y="243.30" font-size="12.5" font-style="italic">z</text></g><line x1="409.5" y1="216.4" x2="441.4" y2="216.4" stroke="#f00" stroke-width="2" stroke-dasharray="12.6 7.4" fill="none"/><line x1="502.8" y1="216.4" x2="533.6" y2="216.4" stroke="#0f0" stroke-width="2" stroke-dasharray="10 3.6 2.8 3.6" fill="none"/><line x1="596.2" y1="216.4" x2="627.8" y2="216.4" stroke="#00f" stroke-width="2" stroke-dasharray="2 3" fill="none"/><g font-family="Liberation Serif" font-size="17.5" fill="#000"><text x="445.3" y="220.5">UAV1</text><text x="538.5" y="220.5">UAV2</text><text x="632.2" y="220.5">UAV3</text></g></svg></body></html>
